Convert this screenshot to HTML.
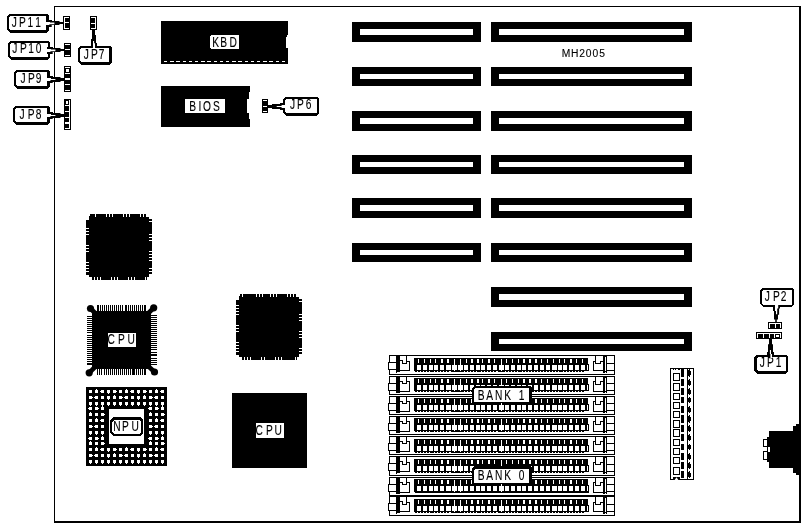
<!DOCTYPE html>
<html><head><meta charset="utf-8"><title>MH2005</title>
<style>
html,body{margin:0;padding:0;background:#fff;}
svg{display:block;will-change:transform;}
svg rect{shape-rendering:crispEdges;}
svg text{font-family:"Liberation Sans",sans-serif;fill:#000;stroke:#000;stroke-width:0.12px;}
</style></head><body>
<svg width="805" height="527" viewBox="0 0 805 527">
<rect x="0" y="0" width="805" height="527" fill="#fff"/>
<!-- board outline -->
<rect x="54" y="6" width="747" height="1" fill="#000"/>
<rect x="54" y="6" width="1" height="517" fill="#000"/>
<rect x="799" y="6" width="2" height="517" fill="#000"/>
<rect x="54" y="521" width="747" height="2" fill="#000"/>
<!-- expansion slots -->
<rect x="491" y="22" width="201" height="20" fill="#000"/>
<rect x="499" y="29" width="185" height="6" fill="#fff"/>
<rect x="352" y="22" width="129" height="20" fill="#000"/>
<rect x="360" y="29" width="113" height="6" fill="#fff"/>
<rect x="491" y="67" width="201" height="19" fill="#000"/>
<rect x="499" y="74" width="185" height="5" fill="#fff"/>
<rect x="352" y="67" width="129" height="19" fill="#000"/>
<rect x="360" y="74" width="113" height="5" fill="#fff"/>
<rect x="491" y="111" width="201" height="20" fill="#000"/>
<rect x="499" y="118" width="185" height="6" fill="#fff"/>
<rect x="352" y="111" width="129" height="20" fill="#000"/>
<rect x="360" y="118" width="113" height="6" fill="#fff"/>
<rect x="491" y="155" width="201" height="19" fill="#000"/>
<rect x="499" y="162" width="185" height="5" fill="#fff"/>
<rect x="352" y="155" width="129" height="19" fill="#000"/>
<rect x="360" y="162" width="113" height="5" fill="#fff"/>
<rect x="491" y="198" width="201" height="20" fill="#000"/>
<rect x="499" y="205" width="185" height="6" fill="#fff"/>
<rect x="352" y="198" width="129" height="20" fill="#000"/>
<rect x="360" y="205" width="113" height="6" fill="#fff"/>
<rect x="491" y="243" width="201" height="19" fill="#000"/>
<rect x="499" y="250" width="185" height="5" fill="#fff"/>
<rect x="352" y="243" width="129" height="19" fill="#000"/>
<rect x="360" y="250" width="113" height="5" fill="#fff"/>
<rect x="491" y="287" width="201" height="20" fill="#000"/>
<rect x="499" y="294" width="185" height="6" fill="#fff"/>
<rect x="491" y="332" width="201" height="19" fill="#000"/>
<rect x="499" y="339" width="185" height="5" fill="#fff"/>
<text transform="scale(0.88,1)" x="638.48 648.78 658.22 665.72 673.22 680.85" y="57" font-size="11.7">MH2005</text>
<!-- KBD chip -->
<rect x="161" y="21" width="127" height="43" fill="#000"/>
<rect x="286" y="37" width="2" height="11" fill="#fff"/>
<rect x="287" y="35" width="1" height="2" fill="#fff"/>
<rect x="164" y="61" width="3" height="1" fill="#fff"/>
<rect x="170" y="61" width="4" height="1" fill="#fff"/>
<rect x="176" y="61" width="4" height="1" fill="#fff"/>
<rect x="183" y="61" width="3" height="1" fill="#fff"/>
<rect x="189" y="61" width="3" height="1" fill="#fff"/>
<rect x="195" y="61" width="3" height="1" fill="#fff"/>
<rect x="201" y="61" width="4" height="1" fill="#fff"/>
<rect x="207" y="61" width="4" height="1" fill="#fff"/>
<rect x="214" y="61" width="3" height="1" fill="#fff"/>
<rect x="220" y="61" width="3" height="1" fill="#fff"/>
<rect x="226" y="61" width="3" height="1" fill="#fff"/>
<rect x="232" y="61" width="4" height="1" fill="#fff"/>
<rect x="238" y="61" width="4" height="1" fill="#fff"/>
<rect x="245" y="61" width="3" height="1" fill="#fff"/>
<rect x="251" y="61" width="3" height="1" fill="#fff"/>
<rect x="257" y="61" width="3" height="1" fill="#fff"/>
<rect x="263" y="61" width="4" height="1" fill="#fff"/>
<rect x="269" y="61" width="4" height="1" fill="#fff"/>
<rect x="276" y="61" width="3" height="1" fill="#fff"/>
<rect x="282" y="61" width="3" height="1" fill="#fff"/>
<path d="M211,35 H238 L239,36 V48 L238,49 H211 L210,48 V36 Z" fill="#fff" shape-rendering="crispEdges"/>
<text transform="scale(0.74,1)" x="286.94 297.76 310.12" y="47" font-size="13.8">KBD</text>
<!-- BIOS chip -->
<rect x="161" y="86" width="89" height="41" fill="#000"/>
<rect x="249" y="92" width="1" height="27" fill="#fff"/>
<rect x="247" y="99" width="3" height="14" fill="#fff"/>
<rect x="185" y="99" width="40" height="14" fill="#fff"/>
<text transform="scale(0.74,1)" x="255.80 268.35 274.37 287.77" y="111" font-size="13.8">BIOS</text>
<!-- JP11 -->
<path d="M9,14 H47 L49,16 V30 L46,33 H10 L7,30 V16 Z" fill="#000" shape-rendering="crispEdges"/>
<path d="M10,16 H45 L46,17 V29 L45,30 H10 L9,29 V17 Z" fill="#fff" shape-rendering="crispEdges"/>
<path d="M46,20 H52 V21 H59.5 V22 H63 V24 H59.5 V25 H51.7 V27 H46 Z" fill="#000" />
<path d="M45,22 H50 V22.6 H54.4 V24.2 H49.4 V25 H45 Z" fill="#fff" />
<text transform="scale(0.74,1)" x="15.81 25.60 37.19 47.66" y="26.8" font-size="13.8">JP11</text>
<rect x="63" y="16" width="7" height="14" fill="#000"/>
<rect x="64" y="17" width="5" height="1" fill="#fff"/>
<rect x="64" y="18" width="1" height="11" fill="#fff"/>
<rect x="65" y="22" width="4" height="1" fill="#fff"/>
<rect x="64" y="28" width="5" height="1" fill="#fff"/>
<!-- JP10 -->
<path d="M10,41 H48 L50,43 V57 L47,60 H11 L8,57 V43 Z" fill="#000" shape-rendering="crispEdges"/>
<path d="M11,43 H47 L48,44 V56 L47,57 H11 L10,56 V44 Z" fill="#fff" shape-rendering="crispEdges"/>
<path d="M47,47 H53 V48 H60.5 V49 H64 V51 H60.5 V52 H52.7 V54 H47 Z" fill="#000" />
<path d="M46,49 H51 V49.6 H55.4 V51.2 H50.4 V52 H46 Z" fill="#fff" />
<text transform="scale(0.74,1)" x="16.55 26.88 38.20 48.39" y="53" font-size="13.8">JP10</text>
<rect x="64" y="43" width="7" height="14" fill="#000"/>
<rect x="65" y="44" width="5" height="1" fill="#fff"/>
<rect x="65" y="49" width="5" height="1.2999999999999972" fill="#fff"/>
<rect x="65" y="55" width="5" height="1" fill="#fff"/>
<!-- JP9 -->
<path d="M16,70 H48 L50,72 V86 L47,89 H17 L14,86 V72 Z" fill="#000" shape-rendering="crispEdges"/>
<path d="M17,72 H46 L47,73 V85 L46,86 H17 L16,85 V73 Z" fill="#fff" shape-rendering="crispEdges"/>
<path d="M47,76 H53 V77 H60.5 V78 H64 V81 H60.5 V82 H52.7 V83 H47 Z" fill="#000" />
<path d="M46,78 H51 V79 H55.4 V80 H50.4 V81 H46 Z" fill="#fff" />
<text transform="scale(0.74,1)" x="27.83 37.90 48.19" y="82.8" font-size="13.8">JP9</text>
<rect x="64" y="66" width="7" height="26" fill="#000"/>
<rect x="65" y="67" width="5" height="1" fill="#fff"/>
<rect x="66" y="69" width="3" height="3" fill="#fff"/>
<rect x="65" y="73" width="5" height="1" fill="#fff"/>
<rect x="65" y="78" width="5" height="2" fill="#fff"/>
<rect x="65" y="84" width="5" height="1" fill="#fff"/>
<rect x="65" y="90" width="5" height="1" fill="#fff"/>
<!-- JP8 -->
<path d="M15,106 H48 L50,108 V122 L47,125 H16 L13,122 V108 Z" fill="#000" shape-rendering="crispEdges"/>
<path d="M16,108 H46 L47,109 V121 L46,122 H16 L15,121 V109 Z" fill="#fff" shape-rendering="crispEdges"/>
<path d="M47,112 H53 V113 H60.5 V114 H64 V117 H60.5 V118 H52.7 V119 H47 Z" fill="#000" />
<path d="M46,114 H51 V115 H55.4 V116 H50.4 V117 H46 Z" fill="#fff" />
<text transform="scale(0.74,1)" x="26.35 37.56 48.26" y="119" font-size="13.8">JP8</text>
<rect x="64" y="99" width="7" height="31" fill="#000"/>
<rect x="65" y="100" width="5" height="29" fill="#fff"/>
<rect x="65" y="100" width="4" height="5" fill="#000"/>
<rect x="66" y="101" width="2" height="3" fill="#fff"/>
<rect x="65" y="106" width="4.299999999999997" height="5" fill="#000"/>
<rect x="65" y="112.3" width="4.299999999999997" height="4.400000000000006" fill="#000"/>
<rect x="65" y="117.9" width="4.299999999999997" height="4.3999999999999915" fill="#000"/>
<rect x="65" y="123.7" width="4.299999999999997" height="4.299999999999997" fill="#000"/>
<!-- JP7 -->
<path d="M80,46 H110 L112,48 V62 L109,65 H81 L78,62 V48 Z" fill="#000" shape-rendering="crispEdges"/>
<path d="M81,48 H108 L109,49 V61 L108,62 H81 L80,61 V49 Z" fill="#fff" shape-rendering="crispEdges"/>
<text transform="scale(0.74,1)" x="113.10 122.83 133.32" y="59" font-size="13.8">JP7</text>
<rect x="90" y="16" width="7" height="14" fill="#000"/>
<rect x="91" y="17" width="5" height="1" fill="#fff"/>
<rect x="95" y="18" width="1" height="11" fill="#fff"/>
<rect x="91" y="23" width="4" height="1" fill="#fff"/>
<rect x="91" y="28" width="5" height="1" fill="#fff"/>
<path d="M92,30 H95 V35 H96 V43 H97 V48 H91 V39 H92 Z" fill="#000" />
<path d="M93,41 H94.1 V43.3 H95 V48.5 H93 Z" fill="#fff" />
<!-- JP6 -->
<path d="M285,97 H317 L319,99 V113 L316,116 H286 L283,113 V99 Z" fill="#000" shape-rendering="crispEdges"/>
<path d="M286,99 H316 L317,100 V112 L316,113 H286 L285,112 V100 Z" fill="#fff" shape-rendering="crispEdges"/>
<text transform="scale(0.74,1)" x="391.89 401.34 413.14" y="108.8" font-size="13.8">JP6</text>
<rect x="262" y="99" width="6" height="14" fill="#000"/>
<rect x="263" y="100" width="4" height="1" fill="#fff"/>
<rect x="263" y="106" width="4" height="1" fill="#fff"/>
<rect x="263" y="111" width="4" height="1" fill="#fff"/>
<path d="M268,105 H272 V104 H280 V103 H285 V110 H280 V109 H272 V108 H268 Z" fill="#000" />
<path d="M276.7,106 H281.6 V105 H286 V108 H281.6 V107 H276.7 Z" fill="#fff" />
<!-- JP2 -->
<path d="M762,288 H792 L794,290 V304 L791,307 H763 L760,304 V290 Z" fill="#000" shape-rendering="crispEdges"/>
<path d="M763,290 H791 L792,291 V304 L791,305 H763 L762,304 V291 Z" fill="#fff" shape-rendering="crispEdges"/>
<text transform="scale(0.74,1)" x="1033.37 1044.45 1054.95" y="301" font-size="13.8">JP2</text>
<rect x="768" y="322" width="14" height="7" fill="#000"/>
<rect x="769" y="323" width="12" height="1" fill="#fff"/>
<rect x="769" y="324" width="1" height="4" fill="#fff"/>
<rect x="775" y="324" width="1" height="4" fill="#fff"/>
<rect x="780" y="324" width="1" height="4" fill="#fff"/>
<path d="M773,305 H780 V308.6 H779.1 V314.8 H778 V319.6 H776.8 V322 H775.2 V319.6 H774 V311 H773 Z" fill="#000" />
<path d="M775,303 H778.2 V308.6 H777.2 V314.3 H776 V311 H775 Z" fill="#fff" />
<!-- JP1 -->
<path d="M756,355 H786 L788,357 V371 L785,374 H757 L754,371 V357 Z" fill="#000" shape-rendering="crispEdges"/>
<path d="M758,357 H785 L786,358 V370 L785,371 H758 L757,370 V358 Z" fill="#fff" shape-rendering="crispEdges"/>
<text transform="scale(0.74,1)" x="1026.62 1036.34 1048.27" y="367" font-size="13.8">JP1</text>
<rect x="756" y="332" width="26" height="7" fill="#000"/>
<rect x="757" y="333" width="24" height="1" fill="#fff"/>
<rect x="757" y="334" width="1" height="4" fill="#fff"/>
<rect x="763" y="334" width="1" height="4" fill="#fff"/>
<rect x="769" y="334" width="1" height="4" fill="#fff"/>
<rect x="774" y="334" width="1" height="4" fill="#fff"/>
<rect x="780" y="334" width="1" height="4" fill="#fff"/>
<rect x="776" y="335" width="3" height="2" fill="#fff"/>
<path d="M769,339 H772 V344.2 H773 V352 H774 V357 H767 V352 H768 V344.2 H769 Z" fill="#000" />
<path d="M769.9,349.9 H771 V354 H772 V358 H770.4 V354 H769.9 Z" fill="#fff" />
<!-- chip U1 -->
<rect x="89" y="217" width="60" height="60" fill="#000"/>
<rect x="90" y="214" width="56" height="3" fill="#000"/>
<rect x="92" y="277" width="55" height="3" fill="#000"/>
<rect x="86" y="220" width="3" height="55" fill="#000"/>
<rect x="149" y="218" width="3" height="56" fill="#000"/>
<rect x="89" y="216" width="1" height="1" fill="#000"/>
<rect x="95" y="214" width="1" height="3" fill="#fff"/>
<rect x="106" y="214" width="1" height="3" fill="#fff"/>
<rect x="109" y="214" width="1" height="3" fill="#fff"/>
<rect x="112" y="214" width="1" height="3" fill="#fff"/>
<rect x="123" y="214" width="1" height="3" fill="#fff"/>
<rect x="126" y="214" width="1" height="3" fill="#fff"/>
<rect x="129" y="214" width="1" height="3" fill="#fff"/>
<rect x="140" y="214" width="1" height="3" fill="#fff"/>
<rect x="143" y="214" width="1" height="3" fill="#fff"/>
<rect x="94" y="277" width="1" height="3" fill="#fff"/>
<rect x="97" y="277" width="1" height="3" fill="#fff"/>
<rect x="100" y="277" width="1" height="3" fill="#fff"/>
<rect x="111" y="277" width="1" height="3" fill="#fff"/>
<rect x="114" y="277" width="1" height="3" fill="#fff"/>
<rect x="117" y="277" width="1" height="3" fill="#fff"/>
<rect x="128" y="277" width="1" height="3" fill="#fff"/>
<rect x="131" y="277" width="1" height="3" fill="#fff"/>
<rect x="134" y="277" width="1" height="3" fill="#fff"/>
<rect x="145" y="277" width="1" height="3" fill="#fff"/>
<rect x="86" y="228" width="3" height="1" fill="#fff"/>
<rect x="86" y="231" width="3" height="1" fill="#fff"/>
<rect x="86" y="234" width="3" height="1" fill="#fff"/>
<rect x="86" y="245" width="3" height="1" fill="#fff"/>
<rect x="86" y="248" width="3" height="1" fill="#fff"/>
<rect x="86" y="251" width="3" height="1" fill="#fff"/>
<rect x="86" y="262" width="3" height="1" fill="#fff"/>
<rect x="86" y="265" width="3" height="1" fill="#fff"/>
<rect x="86" y="268" width="3" height="1" fill="#fff"/>
<rect x="86" y="271" width="3" height="1" fill="#fff"/>
<rect x="149" y="218" width="3" height="1" fill="#fff"/>
<rect x="149" y="221" width="3" height="1" fill="#fff"/>
<rect x="149" y="234" width="3" height="1" fill="#fff"/>
<rect x="149" y="237" width="3" height="1" fill="#fff"/>
<rect x="149" y="240" width="3" height="1" fill="#fff"/>
<rect x="149" y="251" width="3" height="1" fill="#fff"/>
<rect x="149" y="254" width="3" height="1" fill="#fff"/>
<rect x="149" y="257" width="3" height="1" fill="#fff"/>
<rect x="149" y="260" width="3" height="1" fill="#fff"/>
<rect x="149" y="268" width="3" height="1" fill="#fff"/>
<rect x="149" y="271" width="3" height="1" fill="#fff"/>
<rect x="149" y="274" width="3" height="1" fill="#fff"/>
<!-- chip U2 -->
<rect x="239" y="297" width="60" height="60" fill="#000"/>
<rect x="240" y="294" width="56" height="3" fill="#000"/>
<rect x="242" y="357" width="55" height="3" fill="#000"/>
<rect x="236" y="300" width="3" height="55" fill="#000"/>
<rect x="299" y="298" width="3" height="56" fill="#000"/>
<rect x="239" y="296" width="1" height="1" fill="#000"/>
<rect x="242" y="294" width="1" height="3" fill="#fff"/>
<rect x="256" y="294" width="1" height="3" fill="#fff"/>
<rect x="259" y="294" width="1" height="3" fill="#fff"/>
<rect x="262" y="294" width="1" height="3" fill="#fff"/>
<rect x="270" y="294" width="1" height="3" fill="#fff"/>
<rect x="273" y="294" width="1" height="3" fill="#fff"/>
<rect x="276" y="294" width="1" height="3" fill="#fff"/>
<rect x="287" y="294" width="1" height="3" fill="#fff"/>
<rect x="290" y="294" width="1" height="3" fill="#fff"/>
<rect x="293" y="294" width="1" height="3" fill="#fff"/>
<rect x="244" y="357" width="1" height="3" fill="#fff"/>
<rect x="247" y="357" width="1" height="3" fill="#fff"/>
<rect x="250" y="357" width="1" height="3" fill="#fff"/>
<rect x="261" y="357" width="1" height="3" fill="#fff"/>
<rect x="264" y="357" width="1" height="3" fill="#fff"/>
<rect x="275" y="357" width="1" height="3" fill="#fff"/>
<rect x="278" y="357" width="1" height="3" fill="#fff"/>
<rect x="281" y="357" width="1" height="3" fill="#fff"/>
<rect x="295" y="357" width="1" height="3" fill="#fff"/>
<rect x="236" y="305" width="3" height="1" fill="#fff"/>
<rect x="236" y="308" width="3" height="1" fill="#fff"/>
<rect x="236" y="311" width="3" height="1" fill="#fff"/>
<rect x="236" y="314" width="3" height="1" fill="#fff"/>
<rect x="236" y="325" width="3" height="1" fill="#fff"/>
<rect x="236" y="328" width="3" height="1" fill="#fff"/>
<rect x="236" y="331" width="3" height="1" fill="#fff"/>
<rect x="236" y="342" width="3" height="1" fill="#fff"/>
<rect x="236" y="345" width="3" height="1" fill="#fff"/>
<rect x="236" y="348" width="3" height="1" fill="#fff"/>
<rect x="236" y="351" width="3" height="1" fill="#fff"/>
<rect x="299" y="298" width="3" height="1" fill="#fff"/>
<rect x="299" y="301" width="3" height="1" fill="#fff"/>
<rect x="299" y="314" width="3" height="1" fill="#fff"/>
<rect x="299" y="317" width="3" height="1" fill="#fff"/>
<rect x="299" y="320" width="3" height="1" fill="#fff"/>
<rect x="299" y="331" width="3" height="1" fill="#fff"/>
<rect x="299" y="334" width="3" height="1" fill="#fff"/>
<rect x="299" y="337" width="3" height="1" fill="#fff"/>
<rect x="299" y="348" width="3" height="1" fill="#fff"/>
<rect x="299" y="351" width="3" height="1" fill="#fff"/>
<rect x="299" y="354" width="3" height="1" fill="#fff"/>
<!-- QFP CPU -->
<rect x="92" y="311" width="59" height="58" fill="#000"/>
<rect x="97" y="305" width="2" height="6" fill="#000"/>
<rect x="100" y="305" width="1" height="6" fill="#000"/>
<rect x="102" y="305" width="1" height="6" fill="#000"/>
<rect x="104" y="305" width="1" height="6" fill="#000"/>
<rect x="106" y="305" width="1" height="6" fill="#000"/>
<rect x="108" y="305" width="1" height="6" fill="#000"/>
<rect x="110" y="305" width="1" height="6" fill="#000"/>
<rect x="112" y="305" width="1" height="6" fill="#000"/>
<rect x="114" y="305" width="1" height="6" fill="#000"/>
<rect x="116" y="305" width="1" height="6" fill="#000"/>
<rect x="118" y="305" width="1" height="6" fill="#000"/>
<rect x="120" y="305" width="1" height="6" fill="#000"/>
<rect x="122" y="305" width="1" height="6" fill="#000"/>
<rect x="125" y="305" width="2" height="6" fill="#000"/>
<rect x="128" y="305" width="1" height="6" fill="#000"/>
<rect x="130" y="305" width="1" height="6" fill="#000"/>
<rect x="132" y="305" width="1" height="6" fill="#000"/>
<rect x="134" y="305" width="1" height="6" fill="#000"/>
<rect x="136" y="305" width="1" height="6" fill="#000"/>
<rect x="138" y="305" width="1" height="6" fill="#000"/>
<rect x="140" y="305" width="1" height="6" fill="#000"/>
<rect x="142" y="305" width="1" height="6" fill="#000"/>
<rect x="144" y="305" width="2" height="6" fill="#000"/>
<rect x="97" y="369" width="1" height="6" fill="#000"/>
<rect x="99" y="369" width="1" height="6" fill="#000"/>
<rect x="101" y="369" width="1" height="6" fill="#000"/>
<rect x="104" y="369" width="1" height="6" fill="#000"/>
<rect x="106" y="369" width="1" height="6" fill="#000"/>
<rect x="108" y="369" width="1" height="6" fill="#000"/>
<rect x="110" y="369" width="1" height="6" fill="#000"/>
<rect x="112" y="369" width="1" height="6" fill="#000"/>
<rect x="114" y="369" width="1" height="6" fill="#000"/>
<rect x="116" y="369" width="1" height="6" fill="#000"/>
<rect x="118" y="369" width="1" height="6" fill="#000"/>
<rect x="120" y="369" width="1" height="6" fill="#000"/>
<rect x="122" y="369" width="1" height="6" fill="#000"/>
<rect x="124" y="369" width="1" height="6" fill="#000"/>
<rect x="126" y="369" width="1" height="6" fill="#000"/>
<rect x="128" y="369" width="1" height="6" fill="#000"/>
<rect x="130" y="369" width="1" height="6" fill="#000"/>
<rect x="132" y="369" width="3" height="6" fill="#000"/>
<rect x="136" y="369" width="1" height="6" fill="#000"/>
<rect x="138" y="369" width="1" height="6" fill="#000"/>
<rect x="140" y="369" width="1" height="6" fill="#000"/>
<rect x="142" y="369" width="1" height="6" fill="#000"/>
<rect x="144" y="369" width="2" height="6" fill="#000"/>
<rect x="87" y="316" width="5" height="1" fill="#000"/>
<rect x="87" y="318" width="5" height="1" fill="#000"/>
<rect x="87" y="320" width="5" height="1" fill="#000"/>
<rect x="87" y="322" width="5" height="1" fill="#000"/>
<rect x="87" y="324" width="5" height="1" fill="#000"/>
<rect x="87" y="326" width="5" height="1" fill="#000"/>
<rect x="87" y="328" width="5" height="1" fill="#000"/>
<rect x="87" y="330" width="5" height="1" fill="#000"/>
<rect x="87" y="332" width="5" height="1" fill="#000"/>
<rect x="87" y="335" width="5" height="1" fill="#000"/>
<rect x="87" y="337" width="5" height="1" fill="#000"/>
<rect x="87" y="339" width="5" height="1" fill="#000"/>
<rect x="87" y="341" width="5" height="1" fill="#000"/>
<rect x="87" y="343" width="5" height="1" fill="#000"/>
<rect x="87" y="345" width="5" height="1" fill="#000"/>
<rect x="87" y="347" width="5" height="1" fill="#000"/>
<rect x="87" y="349" width="5" height="1" fill="#000"/>
<rect x="87" y="351" width="5" height="1" fill="#000"/>
<rect x="87" y="353" width="5" height="1" fill="#000"/>
<rect x="87" y="355" width="5" height="1" fill="#000"/>
<rect x="87" y="357" width="5" height="1" fill="#000"/>
<rect x="87" y="359" width="5" height="1" fill="#000"/>
<rect x="87" y="361" width="5" height="1" fill="#000"/>
<rect x="87" y="363" width="5" height="2" fill="#000"/>
<rect x="151" y="315" width="6" height="1" fill="#000"/>
<rect x="151" y="317" width="6" height="1" fill="#000"/>
<rect x="151" y="319" width="6" height="1" fill="#000"/>
<rect x="151" y="321" width="6" height="1" fill="#000"/>
<rect x="151" y="323" width="6" height="1" fill="#000"/>
<rect x="151" y="325" width="6" height="1" fill="#000"/>
<rect x="151" y="327" width="6" height="1" fill="#000"/>
<rect x="151" y="329" width="6" height="1" fill="#000"/>
<rect x="151" y="331" width="6" height="1" fill="#000"/>
<rect x="151" y="333" width="6" height="1" fill="#000"/>
<rect x="151" y="335" width="6" height="1" fill="#000"/>
<rect x="151" y="337" width="6" height="1" fill="#000"/>
<rect x="151" y="339" width="6" height="1" fill="#000"/>
<rect x="151" y="341" width="6" height="1" fill="#000"/>
<rect x="151" y="343" width="6" height="1" fill="#000"/>
<rect x="151" y="345" width="6" height="1" fill="#000"/>
<rect x="151" y="347" width="6" height="1" fill="#000"/>
<rect x="151" y="349" width="6" height="1" fill="#000"/>
<rect x="151" y="352" width="6" height="1" fill="#000"/>
<rect x="151" y="354" width="6" height="2" fill="#000"/>
<rect x="151" y="358" width="6" height="1" fill="#000"/>
<rect x="151" y="360" width="6" height="1" fill="#000"/>
<rect x="151" y="362" width="6" height="1" fill="#000"/>
<rect x="151" y="364" width="6" height="1" fill="#000"/>
<line x1="96" y1="314" x2="90.5" y2="308.5" stroke="#000" stroke-width="4.6"/>
<circle cx="90.5" cy="308.5" r="3.6" fill="#000"/>
<line x1="147" y1="314.5" x2="153.7" y2="307.8" stroke="#000" stroke-width="4.6"/>
<circle cx="153.7" cy="307.8" r="3.6" fill="#000"/>
<line x1="96" y1="366" x2="89.2" y2="372.8" stroke="#000" stroke-width="4.6"/>
<circle cx="89.2" cy="372.8" r="3.6" fill="#000"/>
<line x1="147" y1="365" x2="154.5" y2="372" stroke="#000" stroke-width="4.6"/>
<circle cx="154.5" cy="372" r="3.6" fill="#000"/>
<rect x="108" y="333" width="28" height="14" fill="#fff"/>
<text transform="scale(0.74,1)" x="145.27 159.38 172.31" y="344" font-size="13.8">CPU</text>
<!-- PGA NPU -->
<rect x="86" y="387" width="81" height="79" fill="#000"/>
<rect x="109" y="409" width="35" height="35" fill="#fff"/>
<rect x="89" y="390" width="3" height="3" fill="#fff"/>
<rect x="95" y="390" width="3" height="3" fill="#fff"/>
<rect x="96" y="389" width="1" height="1" fill="#fff"/>
<rect x="101" y="390" width="3" height="3" fill="#fff"/>
<rect x="100" y="391" width="1" height="1" fill="#fff"/>
<rect x="107" y="390" width="3" height="3" fill="#fff"/>
<rect x="108" y="393" width="1" height="1" fill="#fff"/>
<rect x="113" y="390" width="3" height="3" fill="#fff"/>
<rect x="116" y="391" width="1" height="1" fill="#fff"/>
<rect x="119" y="390" width="3" height="3" fill="#fff"/>
<rect x="125" y="390" width="3" height="3" fill="#fff"/>
<rect x="126" y="389" width="1" height="1" fill="#fff"/>
<rect x="131" y="390" width="3" height="3" fill="#fff"/>
<rect x="130" y="391" width="1" height="1" fill="#fff"/>
<rect x="137" y="390" width="3" height="3" fill="#fff"/>
<rect x="138" y="393" width="1" height="1" fill="#fff"/>
<rect x="143" y="390" width="3" height="3" fill="#fff"/>
<rect x="146" y="391" width="1" height="1" fill="#fff"/>
<rect x="149" y="390" width="3" height="3" fill="#fff"/>
<rect x="155" y="390" width="3" height="3" fill="#fff"/>
<rect x="156" y="389" width="1" height="1" fill="#fff"/>
<rect x="161" y="390" width="3" height="3" fill="#fff"/>
<rect x="160" y="391" width="1" height="1" fill="#fff"/>
<rect x="89" y="396" width="3" height="3" fill="#fff"/>
<rect x="92" y="397" width="1" height="1" fill="#fff"/>
<rect x="95" y="396" width="3" height="3" fill="#fff"/>
<rect x="94" y="397" width="1" height="1" fill="#fff"/>
<rect x="101" y="396" width="3" height="3" fill="#fff"/>
<rect x="107" y="396" width="3" height="3" fill="#fff"/>
<rect x="108" y="399" width="1" height="1" fill="#fff"/>
<rect x="113" y="396" width="3" height="3" fill="#fff"/>
<rect x="114" y="395" width="1" height="1" fill="#fff"/>
<rect x="119" y="396" width="3" height="3" fill="#fff"/>
<rect x="122" y="397" width="1" height="1" fill="#fff"/>
<rect x="125" y="396" width="3" height="3" fill="#fff"/>
<rect x="124" y="397" width="1" height="1" fill="#fff"/>
<rect x="131" y="396" width="3" height="3" fill="#fff"/>
<rect x="137" y="396" width="3" height="3" fill="#fff"/>
<rect x="138" y="399" width="1" height="1" fill="#fff"/>
<rect x="143" y="396" width="3" height="3" fill="#fff"/>
<rect x="144" y="395" width="1" height="1" fill="#fff"/>
<rect x="149" y="396" width="3" height="3" fill="#fff"/>
<rect x="152" y="397" width="1" height="1" fill="#fff"/>
<rect x="155" y="396" width="3" height="3" fill="#fff"/>
<rect x="154" y="397" width="1" height="1" fill="#fff"/>
<rect x="161" y="396" width="3" height="3" fill="#fff"/>
<rect x="89" y="402" width="3" height="3" fill="#fff"/>
<rect x="90" y="405" width="1" height="1" fill="#fff"/>
<rect x="95" y="402" width="3" height="3" fill="#fff"/>
<rect x="96" y="405" width="1" height="1" fill="#fff"/>
<rect x="101" y="402" width="3" height="3" fill="#fff"/>
<rect x="102" y="405" width="1" height="1" fill="#fff"/>
<rect x="107" y="402" width="3" height="3" fill="#fff"/>
<rect x="108" y="405" width="1" height="1" fill="#fff"/>
<rect x="113" y="402" width="3" height="3" fill="#fff"/>
<rect x="114" y="405" width="1" height="1" fill="#fff"/>
<rect x="119" y="402" width="3" height="3" fill="#fff"/>
<rect x="120" y="405" width="1" height="1" fill="#fff"/>
<rect x="125" y="402" width="3" height="3" fill="#fff"/>
<rect x="126" y="405" width="1" height="1" fill="#fff"/>
<rect x="131" y="402" width="3" height="3" fill="#fff"/>
<rect x="132" y="405" width="1" height="1" fill="#fff"/>
<rect x="137" y="402" width="3" height="3" fill="#fff"/>
<rect x="138" y="405" width="1" height="1" fill="#fff"/>
<rect x="143" y="402" width="3" height="3" fill="#fff"/>
<rect x="144" y="405" width="1" height="1" fill="#fff"/>
<rect x="149" y="402" width="3" height="3" fill="#fff"/>
<rect x="150" y="405" width="1" height="1" fill="#fff"/>
<rect x="155" y="402" width="3" height="3" fill="#fff"/>
<rect x="156" y="405" width="1" height="1" fill="#fff"/>
<rect x="161" y="402" width="3" height="3" fill="#fff"/>
<rect x="162" y="405" width="1" height="1" fill="#fff"/>
<rect x="89" y="407" width="3" height="3" fill="#fff"/>
<rect x="88" y="408" width="1" height="1" fill="#fff"/>
<rect x="95" y="407" width="3" height="3" fill="#fff"/>
<rect x="98" y="408" width="1" height="1" fill="#fff"/>
<rect x="101" y="407" width="3" height="3" fill="#fff"/>
<rect x="102" y="406" width="1" height="1" fill="#fff"/>
<rect x="149" y="407" width="3" height="3" fill="#fff"/>
<rect x="148" y="408" width="1" height="1" fill="#fff"/>
<rect x="155" y="407" width="3" height="3" fill="#fff"/>
<rect x="158" y="408" width="1" height="1" fill="#fff"/>
<rect x="161" y="407" width="3" height="3" fill="#fff"/>
<rect x="162" y="406" width="1" height="1" fill="#fff"/>
<rect x="89" y="413" width="3" height="3" fill="#fff"/>
<rect x="90" y="412" width="1" height="1" fill="#fff"/>
<rect x="95" y="413" width="3" height="3" fill="#fff"/>
<rect x="101" y="413" width="3" height="3" fill="#fff"/>
<rect x="104" y="414" width="1" height="1" fill="#fff"/>
<rect x="149" y="413" width="3" height="3" fill="#fff"/>
<rect x="150" y="412" width="1" height="1" fill="#fff"/>
<rect x="155" y="413" width="3" height="3" fill="#fff"/>
<rect x="161" y="413" width="3" height="3" fill="#fff"/>
<rect x="164" y="414" width="1" height="1" fill="#fff"/>
<rect x="89" y="419" width="3" height="3" fill="#fff"/>
<rect x="95" y="419" width="3" height="3" fill="#fff"/>
<rect x="96" y="418" width="1" height="1" fill="#fff"/>
<rect x="101" y="419" width="3" height="3" fill="#fff"/>
<rect x="100" y="420" width="1" height="1" fill="#fff"/>
<rect x="149" y="419" width="3" height="3" fill="#fff"/>
<rect x="155" y="419" width="3" height="3" fill="#fff"/>
<rect x="156" y="418" width="1" height="1" fill="#fff"/>
<rect x="161" y="419" width="3" height="3" fill="#fff"/>
<rect x="160" y="420" width="1" height="1" fill="#fff"/>
<rect x="89" y="425" width="3" height="3" fill="#fff"/>
<rect x="92" y="426" width="1" height="1" fill="#fff"/>
<rect x="95" y="425" width="3" height="3" fill="#fff"/>
<rect x="94" y="426" width="1" height="1" fill="#fff"/>
<rect x="101" y="425" width="3" height="3" fill="#fff"/>
<rect x="149" y="425" width="3" height="3" fill="#fff"/>
<rect x="152" y="426" width="1" height="1" fill="#fff"/>
<rect x="155" y="425" width="3" height="3" fill="#fff"/>
<rect x="154" y="426" width="1" height="1" fill="#fff"/>
<rect x="161" y="425" width="3" height="3" fill="#fff"/>
<rect x="89" y="431" width="3" height="3" fill="#fff"/>
<rect x="90" y="434" width="1" height="1" fill="#fff"/>
<rect x="95" y="431" width="3" height="3" fill="#fff"/>
<rect x="96" y="434" width="1" height="1" fill="#fff"/>
<rect x="101" y="431" width="3" height="3" fill="#fff"/>
<rect x="102" y="434" width="1" height="1" fill="#fff"/>
<rect x="149" y="431" width="3" height="3" fill="#fff"/>
<rect x="150" y="434" width="1" height="1" fill="#fff"/>
<rect x="155" y="431" width="3" height="3" fill="#fff"/>
<rect x="156" y="434" width="1" height="1" fill="#fff"/>
<rect x="161" y="431" width="3" height="3" fill="#fff"/>
<rect x="162" y="434" width="1" height="1" fill="#fff"/>
<rect x="89" y="437" width="3" height="3" fill="#fff"/>
<rect x="88" y="438" width="1" height="1" fill="#fff"/>
<rect x="95" y="437" width="3" height="3" fill="#fff"/>
<rect x="98" y="438" width="1" height="1" fill="#fff"/>
<rect x="101" y="437" width="3" height="3" fill="#fff"/>
<rect x="102" y="436" width="1" height="1" fill="#fff"/>
<rect x="149" y="437" width="3" height="3" fill="#fff"/>
<rect x="148" y="438" width="1" height="1" fill="#fff"/>
<rect x="155" y="437" width="3" height="3" fill="#fff"/>
<rect x="158" y="438" width="1" height="1" fill="#fff"/>
<rect x="161" y="437" width="3" height="3" fill="#fff"/>
<rect x="162" y="436" width="1" height="1" fill="#fff"/>
<rect x="89" y="442" width="3" height="3" fill="#fff"/>
<rect x="90" y="441" width="1" height="1" fill="#fff"/>
<rect x="95" y="442" width="3" height="3" fill="#fff"/>
<rect x="101" y="442" width="3" height="3" fill="#fff"/>
<rect x="104" y="443" width="1" height="1" fill="#fff"/>
<rect x="149" y="442" width="3" height="3" fill="#fff"/>
<rect x="150" y="441" width="1" height="1" fill="#fff"/>
<rect x="155" y="442" width="3" height="3" fill="#fff"/>
<rect x="161" y="442" width="3" height="3" fill="#fff"/>
<rect x="164" y="443" width="1" height="1" fill="#fff"/>
<rect x="89" y="448" width="3" height="3" fill="#fff"/>
<rect x="95" y="448" width="3" height="3" fill="#fff"/>
<rect x="96" y="447" width="1" height="1" fill="#fff"/>
<rect x="101" y="448" width="3" height="3" fill="#fff"/>
<rect x="100" y="449" width="1" height="1" fill="#fff"/>
<rect x="107" y="448" width="3" height="3" fill="#fff"/>
<rect x="108" y="451" width="1" height="1" fill="#fff"/>
<rect x="113" y="448" width="3" height="3" fill="#fff"/>
<rect x="116" y="449" width="1" height="1" fill="#fff"/>
<rect x="119" y="448" width="3" height="3" fill="#fff"/>
<rect x="125" y="448" width="3" height="3" fill="#fff"/>
<rect x="126" y="447" width="1" height="1" fill="#fff"/>
<rect x="131" y="448" width="3" height="3" fill="#fff"/>
<rect x="130" y="449" width="1" height="1" fill="#fff"/>
<rect x="137" y="448" width="3" height="3" fill="#fff"/>
<rect x="138" y="451" width="1" height="1" fill="#fff"/>
<rect x="143" y="448" width="3" height="3" fill="#fff"/>
<rect x="146" y="449" width="1" height="1" fill="#fff"/>
<rect x="149" y="448" width="3" height="3" fill="#fff"/>
<rect x="155" y="448" width="3" height="3" fill="#fff"/>
<rect x="156" y="447" width="1" height="1" fill="#fff"/>
<rect x="161" y="448" width="3" height="3" fill="#fff"/>
<rect x="160" y="449" width="1" height="1" fill="#fff"/>
<rect x="89" y="454" width="3" height="3" fill="#fff"/>
<rect x="92" y="455" width="1" height="1" fill="#fff"/>
<rect x="95" y="454" width="3" height="3" fill="#fff"/>
<rect x="94" y="455" width="1" height="1" fill="#fff"/>
<rect x="101" y="454" width="3" height="3" fill="#fff"/>
<rect x="107" y="454" width="3" height="3" fill="#fff"/>
<rect x="108" y="457" width="1" height="1" fill="#fff"/>
<rect x="113" y="454" width="3" height="3" fill="#fff"/>
<rect x="114" y="453" width="1" height="1" fill="#fff"/>
<rect x="119" y="454" width="3" height="3" fill="#fff"/>
<rect x="122" y="455" width="1" height="1" fill="#fff"/>
<rect x="125" y="454" width="3" height="3" fill="#fff"/>
<rect x="124" y="455" width="1" height="1" fill="#fff"/>
<rect x="131" y="454" width="3" height="3" fill="#fff"/>
<rect x="137" y="454" width="3" height="3" fill="#fff"/>
<rect x="138" y="457" width="1" height="1" fill="#fff"/>
<rect x="143" y="454" width="3" height="3" fill="#fff"/>
<rect x="144" y="453" width="1" height="1" fill="#fff"/>
<rect x="149" y="454" width="3" height="3" fill="#fff"/>
<rect x="152" y="455" width="1" height="1" fill="#fff"/>
<rect x="155" y="454" width="3" height="3" fill="#fff"/>
<rect x="154" y="455" width="1" height="1" fill="#fff"/>
<rect x="161" y="454" width="3" height="3" fill="#fff"/>
<rect x="89" y="460" width="3" height="3" fill="#fff"/>
<rect x="90" y="463" width="1" height="1" fill="#fff"/>
<rect x="95" y="460" width="3" height="3" fill="#fff"/>
<rect x="96" y="463" width="1" height="1" fill="#fff"/>
<rect x="101" y="460" width="3" height="3" fill="#fff"/>
<rect x="102" y="463" width="1" height="1" fill="#fff"/>
<rect x="107" y="460" width="3" height="3" fill="#fff"/>
<rect x="108" y="463" width="1" height="1" fill="#fff"/>
<rect x="113" y="460" width="3" height="3" fill="#fff"/>
<rect x="114" y="463" width="1" height="1" fill="#fff"/>
<rect x="119" y="460" width="3" height="3" fill="#fff"/>
<rect x="120" y="463" width="1" height="1" fill="#fff"/>
<rect x="125" y="460" width="3" height="3" fill="#fff"/>
<rect x="126" y="463" width="1" height="1" fill="#fff"/>
<rect x="131" y="460" width="3" height="3" fill="#fff"/>
<rect x="132" y="463" width="1" height="1" fill="#fff"/>
<rect x="137" y="460" width="3" height="3" fill="#fff"/>
<rect x="138" y="463" width="1" height="1" fill="#fff"/>
<rect x="143" y="460" width="3" height="3" fill="#fff"/>
<rect x="144" y="463" width="1" height="1" fill="#fff"/>
<rect x="149" y="460" width="3" height="3" fill="#fff"/>
<rect x="150" y="463" width="1" height="1" fill="#fff"/>
<rect x="155" y="460" width="3" height="3" fill="#fff"/>
<rect x="156" y="463" width="1" height="1" fill="#fff"/>
<rect x="161" y="460" width="3" height="3" fill="#fff"/>
<rect x="162" y="463" width="1" height="1" fill="#fff"/>
<path d="M113,417 H140 L143,420 V433 L140,436 H113 L110,433 V420 Z" fill="#000" shape-rendering="crispEdges"/>
<path d="M114,420 H139 L141,422 V432 L139,434 H114 L112,432 V422 Z" fill="#fff" shape-rendering="crispEdges"/>
<text transform="scale(0.74,1)" x="153.19 164.79 177.58" y="431" font-size="13.8">NPU</text>
<!-- CPU square -->
<rect x="232" y="393" width="75" height="75" fill="#000"/>
<path d="M256,423 H283 L284,424 V437 L283,438 H256 Z" fill="#fff" shape-rendering="crispEdges"/>
<text transform="scale(0.74,1)" x="345.27 359.38 370.90" y="435" font-size="13.8">CPU</text>
<!-- SIMM sockets -->
<rect x="389" y="355" width="226" height="1" fill="#000"/>
<rect x="389" y="374" width="226" height="1" fill="#000"/>
<rect x="614" y="355" width="1" height="20" fill="#000"/>
<rect x="389" y="355" width="1" height="8" fill="#000"/>
<rect x="389" y="369" width="1" height="6" fill="#000"/>
<rect x="396" y="355" width="4" height="17" fill="#000"/>
<rect x="396" y="372" width="1" height="1" fill="#000"/>
<rect x="388" y="362" width="9" height="1" fill="#000"/>
<rect x="388" y="369" width="9" height="1" fill="#000"/>
<rect x="388" y="362" width="1" height="8" fill="#000"/>
<rect x="400" y="360" width="3" height="1" fill="#000"/>
<rect x="402" y="360" width="1" height="4" fill="#000"/>
<rect x="402" y="363" width="5" height="1" fill="#000"/>
<rect x="406" y="355" width="1" height="9" fill="#000"/>
<rect x="407" y="361" width="3" height="1" fill="#000"/>
<rect x="409" y="361" width="1" height="10" fill="#000"/>
<rect x="400" y="370" width="10" height="1" fill="#000"/>
<rect x="603" y="355" width="4" height="17" fill="#000"/>
<rect x="603" y="372" width="2" height="1" fill="#000"/>
<rect x="606" y="372" width="1" height="1" fill="#000"/>
<rect x="605" y="357" width="1" height="14" fill="#fff"/>
<rect x="607" y="363" width="8" height="1" fill="#000"/>
<rect x="607" y="370" width="8" height="1" fill="#000"/>
<rect x="595" y="355" width="1" height="9" fill="#000"/>
<rect x="595" y="363" width="6" height="1" fill="#000"/>
<rect x="600" y="361" width="1" height="3" fill="#000"/>
<rect x="600" y="361" width="3" height="1" fill="#000"/>
<rect x="593" y="361" width="3" height="1" fill="#000"/>
<rect x="593" y="361" width="1" height="10" fill="#000"/>
<rect x="593" y="370" width="10" height="1" fill="#000"/>
<rect x="414" y="358" width="174" height="13" fill="#000"/>
<rect x="415" y="364" width="174" height="7" fill="#000"/>
<rect x="417" y="365" width="4" height="5" fill="#fff"/>
<rect x="415" y="371" width="2" height="1" fill="#000"/>
<rect x="418" y="371" width="2" height="1" fill="#000"/>
<rect x="418" y="359" width="1" height="4" fill="#fff"/>
<rect x="423" y="365" width="4" height="5" fill="#fff"/>
<rect x="421" y="371" width="2" height="1" fill="#000"/>
<rect x="424" y="371" width="2" height="1" fill="#000"/>
<rect x="424" y="359" width="1" height="4" fill="#fff"/>
<rect x="429" y="365" width="4" height="5" fill="#fff"/>
<rect x="427" y="371" width="2" height="1" fill="#000"/>
<rect x="430" y="371" width="2" height="1" fill="#000"/>
<rect x="430" y="359" width="1" height="4" fill="#fff"/>
<rect x="434" y="365" width="4" height="5" fill="#fff"/>
<rect x="432" y="371" width="2" height="1" fill="#000"/>
<rect x="435" y="371" width="2" height="1" fill="#000"/>
<rect x="435" y="359" width="1" height="4" fill="#fff"/>
<rect x="440" y="365" width="4" height="5" fill="#fff"/>
<rect x="438" y="371" width="2" height="1" fill="#000"/>
<rect x="441" y="371" width="2" height="1" fill="#000"/>
<rect x="441" y="359" width="2" height="4" fill="#fff"/>
<rect x="446" y="365" width="5" height="5" fill="#fff"/>
<rect x="444" y="371" width="2" height="1" fill="#000"/>
<rect x="447" y="371" width="2" height="1" fill="#000"/>
<rect x="447" y="359" width="2" height="4" fill="#fff"/>
<rect x="452" y="365" width="5" height="5" fill="#fff"/>
<rect x="451" y="371" width="6" height="1" fill="#000"/>
<rect x="454" y="359" width="1" height="12" fill="#fff"/>
<rect x="458" y="365" width="5" height="5" fill="#fff"/>
<rect x="457" y="371" width="6" height="1" fill="#000"/>
<rect x="460" y="359" width="1" height="12" fill="#fff"/>
<rect x="464" y="365" width="4" height="5" fill="#fff"/>
<rect x="462" y="371" width="2" height="1" fill="#000"/>
<rect x="465" y="371" width="2" height="1" fill="#000"/>
<rect x="466" y="359" width="1" height="4" fill="#fff"/>
<rect x="470" y="365" width="4" height="5" fill="#fff"/>
<rect x="468" y="371" width="2" height="1" fill="#000"/>
<rect x="471" y="371" width="2" height="1" fill="#000"/>
<rect x="471" y="359" width="2" height="4" fill="#fff"/>
<rect x="476" y="365" width="4" height="5" fill="#fff"/>
<rect x="474" y="371" width="2" height="1" fill="#000"/>
<rect x="477" y="371" width="2" height="1" fill="#000"/>
<rect x="477" y="359" width="2" height="4" fill="#fff"/>
<rect x="481" y="365" width="4" height="5" fill="#fff"/>
<rect x="479" y="371" width="2" height="1" fill="#000"/>
<rect x="482" y="371" width="2" height="1" fill="#000"/>
<rect x="482" y="359" width="1" height="4" fill="#fff"/>
<rect x="487" y="365" width="4" height="5" fill="#fff"/>
<rect x="485" y="371" width="2" height="1" fill="#000"/>
<rect x="488" y="371" width="2" height="1" fill="#000"/>
<rect x="488" y="359" width="2" height="4" fill="#fff"/>
<rect x="493" y="365" width="4" height="5" fill="#fff"/>
<rect x="491" y="371" width="2" height="1" fill="#000"/>
<rect x="494" y="371" width="2" height="1" fill="#000"/>
<rect x="494" y="359" width="1" height="4" fill="#fff"/>
<rect x="499" y="365" width="5" height="5" fill="#fff"/>
<rect x="498" y="371" width="6" height="1" fill="#000"/>
<rect x="501" y="359" width="1" height="12" fill="#fff"/>
<rect x="505" y="365" width="4" height="5" fill="#fff"/>
<rect x="503" y="371" width="2" height="1" fill="#000"/>
<rect x="506" y="371" width="2" height="1" fill="#000"/>
<rect x="506" y="359" width="1" height="4" fill="#fff"/>
<rect x="511" y="365" width="4" height="5" fill="#fff"/>
<rect x="509" y="371" width="2" height="1" fill="#000"/>
<rect x="512" y="371" width="2" height="1" fill="#000"/>
<rect x="512" y="359" width="1" height="4" fill="#fff"/>
<rect x="517" y="365" width="4" height="5" fill="#fff"/>
<rect x="515" y="371" width="2" height="1" fill="#000"/>
<rect x="518" y="371" width="2" height="1" fill="#000"/>
<rect x="518" y="359" width="1" height="4" fill="#fff"/>
<rect x="522" y="365" width="4" height="5" fill="#fff"/>
<rect x="520" y="371" width="2" height="1" fill="#000"/>
<rect x="523" y="371" width="2" height="1" fill="#000"/>
<rect x="523" y="359" width="2" height="4" fill="#fff"/>
<rect x="528" y="365" width="4" height="5" fill="#fff"/>
<rect x="526" y="371" width="2" height="1" fill="#000"/>
<rect x="529" y="371" width="2" height="1" fill="#000"/>
<rect x="529" y="359" width="2" height="4" fill="#fff"/>
<rect x="534" y="365" width="4" height="5" fill="#fff"/>
<rect x="532" y="371" width="2" height="1" fill="#000"/>
<rect x="535" y="371" width="2" height="1" fill="#000"/>
<rect x="535" y="359" width="2" height="4" fill="#fff"/>
<rect x="540" y="365" width="4" height="5" fill="#fff"/>
<rect x="538" y="371" width="2" height="1" fill="#000"/>
<rect x="541" y="371" width="2" height="1" fill="#000"/>
<rect x="541" y="359" width="1" height="4" fill="#fff"/>
<rect x="546" y="365" width="4" height="5" fill="#fff"/>
<rect x="544" y="371" width="2" height="1" fill="#000"/>
<rect x="547" y="371" width="2" height="1" fill="#000"/>
<rect x="547" y="359" width="1" height="4" fill="#fff"/>
<rect x="552" y="365" width="5" height="5" fill="#fff"/>
<rect x="550" y="371" width="2" height="1" fill="#000"/>
<rect x="553" y="371" width="2" height="1" fill="#000"/>
<rect x="553" y="359" width="1" height="4" fill="#fff"/>
<rect x="558" y="365" width="4" height="5" fill="#fff"/>
<rect x="556" y="371" width="2" height="1" fill="#000"/>
<rect x="559" y="371" width="2" height="1" fill="#000"/>
<rect x="559" y="359" width="1" height="4" fill="#fff"/>
<rect x="563" y="365" width="4" height="5" fill="#fff"/>
<rect x="561" y="371" width="2" height="1" fill="#000"/>
<rect x="564" y="371" width="2" height="1" fill="#000"/>
<rect x="564" y="359" width="1" height="4" fill="#fff"/>
<rect x="569" y="365" width="4" height="5" fill="#fff"/>
<rect x="567" y="371" width="2" height="1" fill="#000"/>
<rect x="570" y="371" width="2" height="1" fill="#000"/>
<rect x="570" y="359" width="2" height="4" fill="#fff"/>
<rect x="575" y="365" width="4" height="5" fill="#fff"/>
<rect x="573" y="371" width="2" height="1" fill="#000"/>
<rect x="576" y="371" width="2" height="1" fill="#000"/>
<rect x="576" y="359" width="1" height="4" fill="#fff"/>
<rect x="581" y="365" width="4" height="5" fill="#fff"/>
<rect x="579" y="371" width="2" height="1" fill="#000"/>
<rect x="582" y="371" width="2" height="1" fill="#000"/>
<rect x="582" y="359" width="1" height="4" fill="#fff"/>
<rect x="587" y="365" width="1" height="5" fill="#fff"/>
<rect x="389" y="376" width="226" height="1" fill="#000"/>
<rect x="389" y="394" width="226" height="1" fill="#000"/>
<rect x="614" y="376" width="1" height="19" fill="#000"/>
<rect x="389" y="376" width="1" height="8" fill="#000"/>
<rect x="389" y="390" width="1" height="5" fill="#000"/>
<rect x="396" y="376" width="4" height="16" fill="#000"/>
<rect x="396" y="392" width="4" height="1" fill="#000"/>
<rect x="388" y="383" width="9" height="1" fill="#000"/>
<rect x="388" y="390" width="9" height="1" fill="#000"/>
<rect x="388" y="383" width="1" height="8" fill="#000"/>
<rect x="400" y="381" width="3" height="1" fill="#000"/>
<rect x="402" y="381" width="1" height="3" fill="#000"/>
<rect x="402" y="383" width="5" height="1" fill="#000"/>
<rect x="406" y="376" width="1" height="8" fill="#000"/>
<rect x="407" y="381" width="3" height="1" fill="#000"/>
<rect x="409" y="381" width="1" height="11" fill="#000"/>
<rect x="400" y="391" width="10" height="1" fill="#000"/>
<rect x="603" y="376" width="4" height="16" fill="#000"/>
<rect x="603" y="392" width="2" height="1" fill="#000"/>
<rect x="606" y="392" width="1" height="1" fill="#000"/>
<rect x="605" y="378" width="1" height="13" fill="#fff"/>
<rect x="607" y="383" width="8" height="1" fill="#000"/>
<rect x="607" y="390" width="8" height="1" fill="#000"/>
<rect x="595" y="376" width="1" height="9" fill="#000"/>
<rect x="595" y="384" width="6" height="1" fill="#000"/>
<rect x="600" y="381" width="1" height="4" fill="#000"/>
<rect x="600" y="381" width="3" height="1" fill="#000"/>
<rect x="593" y="381" width="3" height="1" fill="#000"/>
<rect x="593" y="381" width="1" height="11" fill="#000"/>
<rect x="593" y="391" width="10" height="1" fill="#000"/>
<rect x="414" y="378" width="174" height="13" fill="#000"/>
<rect x="415" y="384" width="174" height="7" fill="#000"/>
<rect x="417" y="385" width="4" height="5" fill="#fff"/>
<rect x="415" y="391" width="2" height="1" fill="#000"/>
<rect x="418" y="391" width="2" height="1" fill="#000"/>
<rect x="418" y="379" width="1" height="4" fill="#fff"/>
<rect x="423" y="385" width="4" height="5" fill="#fff"/>
<rect x="421" y="391" width="2" height="1" fill="#000"/>
<rect x="424" y="391" width="2" height="1" fill="#000"/>
<rect x="424" y="379" width="1" height="4" fill="#fff"/>
<rect x="429" y="385" width="4" height="5" fill="#fff"/>
<rect x="427" y="391" width="2" height="1" fill="#000"/>
<rect x="430" y="391" width="2" height="1" fill="#000"/>
<rect x="430" y="379" width="1" height="4" fill="#fff"/>
<rect x="434" y="385" width="4" height="5" fill="#fff"/>
<rect x="432" y="391" width="2" height="1" fill="#000"/>
<rect x="435" y="391" width="2" height="1" fill="#000"/>
<rect x="435" y="379" width="1" height="4" fill="#fff"/>
<rect x="440" y="385" width="4" height="5" fill="#fff"/>
<rect x="438" y="391" width="2" height="1" fill="#000"/>
<rect x="441" y="391" width="2" height="1" fill="#000"/>
<rect x="441" y="379" width="2" height="4" fill="#fff"/>
<rect x="446" y="385" width="5" height="5" fill="#fff"/>
<rect x="444" y="391" width="2" height="1" fill="#000"/>
<rect x="447" y="391" width="2" height="1" fill="#000"/>
<rect x="447" y="379" width="2" height="4" fill="#fff"/>
<rect x="452" y="385" width="5" height="5" fill="#fff"/>
<rect x="451" y="391" width="6" height="1" fill="#000"/>
<rect x="454" y="379" width="1" height="12" fill="#fff"/>
<rect x="458" y="385" width="5" height="5" fill="#fff"/>
<rect x="457" y="391" width="6" height="1" fill="#000"/>
<rect x="460" y="379" width="1" height="12" fill="#fff"/>
<rect x="464" y="385" width="4" height="5" fill="#fff"/>
<rect x="462" y="391" width="2" height="1" fill="#000"/>
<rect x="465" y="391" width="2" height="1" fill="#000"/>
<rect x="466" y="379" width="1" height="4" fill="#fff"/>
<rect x="470" y="385" width="4" height="5" fill="#fff"/>
<rect x="468" y="391" width="2" height="1" fill="#000"/>
<rect x="471" y="391" width="2" height="1" fill="#000"/>
<rect x="471" y="379" width="2" height="4" fill="#fff"/>
<rect x="476" y="385" width="4" height="5" fill="#fff"/>
<rect x="474" y="391" width="2" height="1" fill="#000"/>
<rect x="477" y="391" width="2" height="1" fill="#000"/>
<rect x="477" y="379" width="2" height="4" fill="#fff"/>
<rect x="481" y="385" width="4" height="5" fill="#fff"/>
<rect x="479" y="391" width="2" height="1" fill="#000"/>
<rect x="482" y="391" width="2" height="1" fill="#000"/>
<rect x="482" y="379" width="1" height="4" fill="#fff"/>
<rect x="487" y="385" width="4" height="5" fill="#fff"/>
<rect x="485" y="391" width="2" height="1" fill="#000"/>
<rect x="488" y="391" width="2" height="1" fill="#000"/>
<rect x="488" y="379" width="2" height="4" fill="#fff"/>
<rect x="493" y="385" width="4" height="5" fill="#fff"/>
<rect x="491" y="391" width="2" height="1" fill="#000"/>
<rect x="494" y="391" width="2" height="1" fill="#000"/>
<rect x="494" y="379" width="1" height="4" fill="#fff"/>
<rect x="499" y="385" width="5" height="5" fill="#fff"/>
<rect x="498" y="391" width="6" height="1" fill="#000"/>
<rect x="501" y="379" width="1" height="12" fill="#fff"/>
<rect x="505" y="385" width="4" height="5" fill="#fff"/>
<rect x="503" y="391" width="2" height="1" fill="#000"/>
<rect x="506" y="391" width="2" height="1" fill="#000"/>
<rect x="506" y="379" width="1" height="4" fill="#fff"/>
<rect x="511" y="385" width="4" height="5" fill="#fff"/>
<rect x="509" y="391" width="2" height="1" fill="#000"/>
<rect x="512" y="391" width="2" height="1" fill="#000"/>
<rect x="512" y="379" width="1" height="4" fill="#fff"/>
<rect x="517" y="385" width="4" height="5" fill="#fff"/>
<rect x="515" y="391" width="2" height="1" fill="#000"/>
<rect x="518" y="391" width="2" height="1" fill="#000"/>
<rect x="518" y="379" width="1" height="4" fill="#fff"/>
<rect x="522" y="385" width="4" height="5" fill="#fff"/>
<rect x="520" y="391" width="2" height="1" fill="#000"/>
<rect x="523" y="391" width="2" height="1" fill="#000"/>
<rect x="523" y="379" width="2" height="4" fill="#fff"/>
<rect x="528" y="385" width="4" height="5" fill="#fff"/>
<rect x="526" y="391" width="2" height="1" fill="#000"/>
<rect x="529" y="391" width="2" height="1" fill="#000"/>
<rect x="529" y="379" width="2" height="4" fill="#fff"/>
<rect x="534" y="385" width="4" height="5" fill="#fff"/>
<rect x="532" y="391" width="2" height="1" fill="#000"/>
<rect x="535" y="391" width="2" height="1" fill="#000"/>
<rect x="535" y="379" width="2" height="4" fill="#fff"/>
<rect x="540" y="385" width="4" height="5" fill="#fff"/>
<rect x="538" y="391" width="2" height="1" fill="#000"/>
<rect x="541" y="391" width="2" height="1" fill="#000"/>
<rect x="541" y="379" width="1" height="4" fill="#fff"/>
<rect x="546" y="385" width="4" height="5" fill="#fff"/>
<rect x="544" y="391" width="2" height="1" fill="#000"/>
<rect x="547" y="391" width="2" height="1" fill="#000"/>
<rect x="547" y="379" width="1" height="4" fill="#fff"/>
<rect x="552" y="385" width="5" height="5" fill="#fff"/>
<rect x="550" y="391" width="2" height="1" fill="#000"/>
<rect x="553" y="391" width="2" height="1" fill="#000"/>
<rect x="553" y="379" width="1" height="4" fill="#fff"/>
<rect x="558" y="385" width="4" height="5" fill="#fff"/>
<rect x="556" y="391" width="2" height="1" fill="#000"/>
<rect x="559" y="391" width="2" height="1" fill="#000"/>
<rect x="559" y="379" width="1" height="4" fill="#fff"/>
<rect x="563" y="385" width="4" height="5" fill="#fff"/>
<rect x="561" y="391" width="2" height="1" fill="#000"/>
<rect x="564" y="391" width="2" height="1" fill="#000"/>
<rect x="564" y="379" width="1" height="4" fill="#fff"/>
<rect x="569" y="385" width="4" height="5" fill="#fff"/>
<rect x="567" y="391" width="2" height="1" fill="#000"/>
<rect x="570" y="391" width="2" height="1" fill="#000"/>
<rect x="570" y="379" width="2" height="4" fill="#fff"/>
<rect x="575" y="385" width="4" height="5" fill="#fff"/>
<rect x="573" y="391" width="2" height="1" fill="#000"/>
<rect x="576" y="391" width="2" height="1" fill="#000"/>
<rect x="576" y="379" width="1" height="4" fill="#fff"/>
<rect x="581" y="385" width="4" height="5" fill="#fff"/>
<rect x="579" y="391" width="2" height="1" fill="#000"/>
<rect x="582" y="391" width="2" height="1" fill="#000"/>
<rect x="582" y="379" width="1" height="4" fill="#fff"/>
<rect x="587" y="385" width="1" height="5" fill="#fff"/>
<rect x="389" y="396" width="226" height="1" fill="#000"/>
<rect x="389" y="414" width="226" height="1" fill="#000"/>
<rect x="614" y="396" width="1" height="19" fill="#000"/>
<rect x="389" y="396" width="1" height="8" fill="#000"/>
<rect x="389" y="410" width="1" height="5" fill="#000"/>
<rect x="396" y="396" width="4" height="16" fill="#000"/>
<rect x="396" y="412" width="4" height="1" fill="#000"/>
<rect x="388" y="403" width="9" height="1" fill="#000"/>
<rect x="388" y="410" width="9" height="1" fill="#000"/>
<rect x="388" y="403" width="1" height="8" fill="#000"/>
<rect x="400" y="401" width="3" height="1" fill="#000"/>
<rect x="402" y="401" width="1" height="3" fill="#000"/>
<rect x="402" y="403" width="5" height="1" fill="#000"/>
<rect x="406" y="396" width="1" height="8" fill="#000"/>
<rect x="407" y="401" width="3" height="1" fill="#000"/>
<rect x="409" y="401" width="1" height="11" fill="#000"/>
<rect x="400" y="411" width="10" height="1" fill="#000"/>
<rect x="603" y="396" width="4" height="16" fill="#000"/>
<rect x="603" y="412" width="2" height="1" fill="#000"/>
<rect x="606" y="412" width="1" height="1" fill="#000"/>
<rect x="605" y="398" width="1" height="13" fill="#fff"/>
<rect x="607" y="403" width="8" height="1" fill="#000"/>
<rect x="607" y="410" width="8" height="1" fill="#000"/>
<rect x="595" y="396" width="1" height="9" fill="#000"/>
<rect x="595" y="404" width="6" height="1" fill="#000"/>
<rect x="600" y="401" width="1" height="4" fill="#000"/>
<rect x="600" y="401" width="3" height="1" fill="#000"/>
<rect x="593" y="401" width="3" height="1" fill="#000"/>
<rect x="593" y="401" width="1" height="11" fill="#000"/>
<rect x="593" y="411" width="10" height="1" fill="#000"/>
<rect x="414" y="398" width="174" height="13" fill="#000"/>
<rect x="415" y="404" width="174" height="7" fill="#000"/>
<rect x="417" y="405" width="4" height="5" fill="#fff"/>
<rect x="415" y="411" width="2" height="1" fill="#000"/>
<rect x="418" y="411" width="2" height="1" fill="#000"/>
<rect x="418" y="399" width="1" height="4" fill="#fff"/>
<rect x="423" y="405" width="4" height="5" fill="#fff"/>
<rect x="421" y="411" width="2" height="1" fill="#000"/>
<rect x="424" y="411" width="2" height="1" fill="#000"/>
<rect x="424" y="399" width="1" height="4" fill="#fff"/>
<rect x="429" y="405" width="4" height="5" fill="#fff"/>
<rect x="427" y="411" width="2" height="1" fill="#000"/>
<rect x="430" y="411" width="2" height="1" fill="#000"/>
<rect x="430" y="399" width="1" height="4" fill="#fff"/>
<rect x="434" y="405" width="4" height="5" fill="#fff"/>
<rect x="432" y="411" width="2" height="1" fill="#000"/>
<rect x="435" y="411" width="2" height="1" fill="#000"/>
<rect x="435" y="399" width="1" height="4" fill="#fff"/>
<rect x="440" y="405" width="4" height="5" fill="#fff"/>
<rect x="438" y="411" width="2" height="1" fill="#000"/>
<rect x="441" y="411" width="2" height="1" fill="#000"/>
<rect x="441" y="399" width="2" height="4" fill="#fff"/>
<rect x="446" y="405" width="5" height="5" fill="#fff"/>
<rect x="444" y="411" width="2" height="1" fill="#000"/>
<rect x="447" y="411" width="2" height="1" fill="#000"/>
<rect x="447" y="399" width="2" height="4" fill="#fff"/>
<rect x="452" y="405" width="5" height="5" fill="#fff"/>
<rect x="451" y="411" width="6" height="1" fill="#000"/>
<rect x="454" y="399" width="1" height="12" fill="#fff"/>
<rect x="458" y="405" width="5" height="5" fill="#fff"/>
<rect x="457" y="411" width="6" height="1" fill="#000"/>
<rect x="460" y="399" width="1" height="12" fill="#fff"/>
<rect x="464" y="405" width="4" height="5" fill="#fff"/>
<rect x="462" y="411" width="2" height="1" fill="#000"/>
<rect x="465" y="411" width="2" height="1" fill="#000"/>
<rect x="466" y="399" width="1" height="4" fill="#fff"/>
<rect x="470" y="405" width="4" height="5" fill="#fff"/>
<rect x="468" y="411" width="2" height="1" fill="#000"/>
<rect x="471" y="411" width="2" height="1" fill="#000"/>
<rect x="471" y="399" width="2" height="4" fill="#fff"/>
<rect x="476" y="405" width="4" height="5" fill="#fff"/>
<rect x="474" y="411" width="2" height="1" fill="#000"/>
<rect x="477" y="411" width="2" height="1" fill="#000"/>
<rect x="477" y="399" width="2" height="4" fill="#fff"/>
<rect x="481" y="405" width="4" height="5" fill="#fff"/>
<rect x="479" y="411" width="2" height="1" fill="#000"/>
<rect x="482" y="411" width="2" height="1" fill="#000"/>
<rect x="482" y="399" width="1" height="4" fill="#fff"/>
<rect x="487" y="405" width="4" height="5" fill="#fff"/>
<rect x="485" y="411" width="2" height="1" fill="#000"/>
<rect x="488" y="411" width="2" height="1" fill="#000"/>
<rect x="488" y="399" width="2" height="4" fill="#fff"/>
<rect x="493" y="405" width="4" height="5" fill="#fff"/>
<rect x="491" y="411" width="2" height="1" fill="#000"/>
<rect x="494" y="411" width="2" height="1" fill="#000"/>
<rect x="494" y="399" width="1" height="4" fill="#fff"/>
<rect x="499" y="405" width="5" height="5" fill="#fff"/>
<rect x="498" y="411" width="6" height="1" fill="#000"/>
<rect x="501" y="399" width="1" height="12" fill="#fff"/>
<rect x="505" y="405" width="4" height="5" fill="#fff"/>
<rect x="503" y="411" width="2" height="1" fill="#000"/>
<rect x="506" y="411" width="2" height="1" fill="#000"/>
<rect x="506" y="399" width="1" height="4" fill="#fff"/>
<rect x="511" y="405" width="4" height="5" fill="#fff"/>
<rect x="509" y="411" width="2" height="1" fill="#000"/>
<rect x="512" y="411" width="2" height="1" fill="#000"/>
<rect x="512" y="399" width="1" height="4" fill="#fff"/>
<rect x="517" y="405" width="4" height="5" fill="#fff"/>
<rect x="515" y="411" width="2" height="1" fill="#000"/>
<rect x="518" y="411" width="2" height="1" fill="#000"/>
<rect x="518" y="399" width="1" height="4" fill="#fff"/>
<rect x="522" y="405" width="4" height="5" fill="#fff"/>
<rect x="520" y="411" width="2" height="1" fill="#000"/>
<rect x="523" y="411" width="2" height="1" fill="#000"/>
<rect x="523" y="399" width="2" height="4" fill="#fff"/>
<rect x="528" y="405" width="4" height="5" fill="#fff"/>
<rect x="526" y="411" width="2" height="1" fill="#000"/>
<rect x="529" y="411" width="2" height="1" fill="#000"/>
<rect x="529" y="399" width="2" height="4" fill="#fff"/>
<rect x="534" y="405" width="4" height="5" fill="#fff"/>
<rect x="532" y="411" width="2" height="1" fill="#000"/>
<rect x="535" y="411" width="2" height="1" fill="#000"/>
<rect x="535" y="399" width="2" height="4" fill="#fff"/>
<rect x="540" y="405" width="4" height="5" fill="#fff"/>
<rect x="538" y="411" width="2" height="1" fill="#000"/>
<rect x="541" y="411" width="2" height="1" fill="#000"/>
<rect x="541" y="399" width="1" height="4" fill="#fff"/>
<rect x="546" y="405" width="4" height="5" fill="#fff"/>
<rect x="544" y="411" width="2" height="1" fill="#000"/>
<rect x="547" y="411" width="2" height="1" fill="#000"/>
<rect x="547" y="399" width="1" height="4" fill="#fff"/>
<rect x="552" y="405" width="5" height="5" fill="#fff"/>
<rect x="550" y="411" width="2" height="1" fill="#000"/>
<rect x="553" y="411" width="2" height="1" fill="#000"/>
<rect x="553" y="399" width="1" height="4" fill="#fff"/>
<rect x="558" y="405" width="4" height="5" fill="#fff"/>
<rect x="556" y="411" width="2" height="1" fill="#000"/>
<rect x="559" y="411" width="2" height="1" fill="#000"/>
<rect x="559" y="399" width="1" height="4" fill="#fff"/>
<rect x="563" y="405" width="4" height="5" fill="#fff"/>
<rect x="561" y="411" width="2" height="1" fill="#000"/>
<rect x="564" y="411" width="2" height="1" fill="#000"/>
<rect x="564" y="399" width="1" height="4" fill="#fff"/>
<rect x="569" y="405" width="4" height="5" fill="#fff"/>
<rect x="567" y="411" width="2" height="1" fill="#000"/>
<rect x="570" y="411" width="2" height="1" fill="#000"/>
<rect x="570" y="399" width="2" height="4" fill="#fff"/>
<rect x="575" y="405" width="4" height="5" fill="#fff"/>
<rect x="573" y="411" width="2" height="1" fill="#000"/>
<rect x="576" y="411" width="2" height="1" fill="#000"/>
<rect x="576" y="399" width="1" height="4" fill="#fff"/>
<rect x="581" y="405" width="4" height="5" fill="#fff"/>
<rect x="579" y="411" width="2" height="1" fill="#000"/>
<rect x="582" y="411" width="2" height="1" fill="#000"/>
<rect x="582" y="399" width="1" height="4" fill="#fff"/>
<rect x="587" y="405" width="1" height="5" fill="#fff"/>
<rect x="389" y="416" width="226" height="1" fill="#000"/>
<rect x="389" y="434" width="226" height="1" fill="#000"/>
<rect x="614" y="416" width="1" height="19" fill="#000"/>
<rect x="389" y="416" width="1" height="8" fill="#000"/>
<rect x="389" y="430" width="1" height="5" fill="#000"/>
<rect x="396" y="416" width="4" height="16" fill="#000"/>
<rect x="396" y="432" width="4" height="1" fill="#000"/>
<rect x="388" y="423" width="9" height="1" fill="#000"/>
<rect x="388" y="430" width="9" height="1" fill="#000"/>
<rect x="388" y="423" width="1" height="8" fill="#000"/>
<rect x="400" y="421" width="3" height="1" fill="#000"/>
<rect x="402" y="421" width="1" height="3" fill="#000"/>
<rect x="402" y="423" width="5" height="1" fill="#000"/>
<rect x="406" y="416" width="1" height="8" fill="#000"/>
<rect x="407" y="421" width="3" height="1" fill="#000"/>
<rect x="409" y="421" width="1" height="11" fill="#000"/>
<rect x="400" y="431" width="10" height="1" fill="#000"/>
<rect x="603" y="416" width="4" height="16" fill="#000"/>
<rect x="603" y="432" width="2" height="1" fill="#000"/>
<rect x="606" y="432" width="1" height="1" fill="#000"/>
<rect x="605" y="418" width="1" height="13" fill="#fff"/>
<rect x="607" y="423" width="8" height="1" fill="#000"/>
<rect x="607" y="430" width="8" height="1" fill="#000"/>
<rect x="595" y="416" width="1" height="9" fill="#000"/>
<rect x="595" y="424" width="6" height="1" fill="#000"/>
<rect x="600" y="421" width="1" height="4" fill="#000"/>
<rect x="600" y="421" width="3" height="1" fill="#000"/>
<rect x="593" y="421" width="3" height="1" fill="#000"/>
<rect x="593" y="421" width="1" height="11" fill="#000"/>
<rect x="593" y="431" width="10" height="1" fill="#000"/>
<rect x="414" y="418" width="174" height="13" fill="#000"/>
<rect x="415" y="424" width="174" height="7" fill="#000"/>
<rect x="417" y="425" width="4" height="5" fill="#fff"/>
<rect x="415" y="431" width="2" height="1" fill="#000"/>
<rect x="418" y="431" width="2" height="1" fill="#000"/>
<rect x="418" y="419" width="1" height="4" fill="#fff"/>
<rect x="423" y="425" width="4" height="5" fill="#fff"/>
<rect x="421" y="431" width="2" height="1" fill="#000"/>
<rect x="424" y="431" width="2" height="1" fill="#000"/>
<rect x="424" y="419" width="1" height="4" fill="#fff"/>
<rect x="429" y="425" width="4" height="5" fill="#fff"/>
<rect x="427" y="431" width="2" height="1" fill="#000"/>
<rect x="430" y="431" width="2" height="1" fill="#000"/>
<rect x="430" y="419" width="1" height="4" fill="#fff"/>
<rect x="434" y="425" width="4" height="5" fill="#fff"/>
<rect x="432" y="431" width="2" height="1" fill="#000"/>
<rect x="435" y="431" width="2" height="1" fill="#000"/>
<rect x="435" y="419" width="1" height="4" fill="#fff"/>
<rect x="440" y="425" width="4" height="5" fill="#fff"/>
<rect x="438" y="431" width="2" height="1" fill="#000"/>
<rect x="441" y="431" width="2" height="1" fill="#000"/>
<rect x="441" y="419" width="2" height="4" fill="#fff"/>
<rect x="446" y="425" width="5" height="5" fill="#fff"/>
<rect x="444" y="431" width="2" height="1" fill="#000"/>
<rect x="447" y="431" width="2" height="1" fill="#000"/>
<rect x="447" y="419" width="2" height="4" fill="#fff"/>
<rect x="452" y="425" width="5" height="5" fill="#fff"/>
<rect x="451" y="431" width="6" height="1" fill="#000"/>
<rect x="454" y="419" width="1" height="12" fill="#fff"/>
<rect x="458" y="425" width="5" height="5" fill="#fff"/>
<rect x="457" y="431" width="6" height="1" fill="#000"/>
<rect x="460" y="419" width="1" height="12" fill="#fff"/>
<rect x="464" y="425" width="4" height="5" fill="#fff"/>
<rect x="462" y="431" width="2" height="1" fill="#000"/>
<rect x="465" y="431" width="2" height="1" fill="#000"/>
<rect x="466" y="419" width="1" height="4" fill="#fff"/>
<rect x="470" y="425" width="4" height="5" fill="#fff"/>
<rect x="468" y="431" width="2" height="1" fill="#000"/>
<rect x="471" y="431" width="2" height="1" fill="#000"/>
<rect x="471" y="419" width="2" height="4" fill="#fff"/>
<rect x="476" y="425" width="4" height="5" fill="#fff"/>
<rect x="474" y="431" width="2" height="1" fill="#000"/>
<rect x="477" y="431" width="2" height="1" fill="#000"/>
<rect x="477" y="419" width="2" height="4" fill="#fff"/>
<rect x="481" y="425" width="4" height="5" fill="#fff"/>
<rect x="479" y="431" width="2" height="1" fill="#000"/>
<rect x="482" y="431" width="2" height="1" fill="#000"/>
<rect x="482" y="419" width="1" height="4" fill="#fff"/>
<rect x="487" y="425" width="4" height="5" fill="#fff"/>
<rect x="485" y="431" width="2" height="1" fill="#000"/>
<rect x="488" y="431" width="2" height="1" fill="#000"/>
<rect x="488" y="419" width="2" height="4" fill="#fff"/>
<rect x="493" y="425" width="4" height="5" fill="#fff"/>
<rect x="491" y="431" width="2" height="1" fill="#000"/>
<rect x="494" y="431" width="2" height="1" fill="#000"/>
<rect x="494" y="419" width="1" height="4" fill="#fff"/>
<rect x="499" y="425" width="5" height="5" fill="#fff"/>
<rect x="498" y="431" width="6" height="1" fill="#000"/>
<rect x="501" y="419" width="1" height="12" fill="#fff"/>
<rect x="505" y="425" width="4" height="5" fill="#fff"/>
<rect x="503" y="431" width="2" height="1" fill="#000"/>
<rect x="506" y="431" width="2" height="1" fill="#000"/>
<rect x="506" y="419" width="1" height="4" fill="#fff"/>
<rect x="511" y="425" width="4" height="5" fill="#fff"/>
<rect x="509" y="431" width="2" height="1" fill="#000"/>
<rect x="512" y="431" width="2" height="1" fill="#000"/>
<rect x="512" y="419" width="1" height="4" fill="#fff"/>
<rect x="517" y="425" width="4" height="5" fill="#fff"/>
<rect x="515" y="431" width="2" height="1" fill="#000"/>
<rect x="518" y="431" width="2" height="1" fill="#000"/>
<rect x="518" y="419" width="1" height="4" fill="#fff"/>
<rect x="522" y="425" width="4" height="5" fill="#fff"/>
<rect x="520" y="431" width="2" height="1" fill="#000"/>
<rect x="523" y="431" width="2" height="1" fill="#000"/>
<rect x="523" y="419" width="2" height="4" fill="#fff"/>
<rect x="528" y="425" width="4" height="5" fill="#fff"/>
<rect x="526" y="431" width="2" height="1" fill="#000"/>
<rect x="529" y="431" width="2" height="1" fill="#000"/>
<rect x="529" y="419" width="2" height="4" fill="#fff"/>
<rect x="534" y="425" width="4" height="5" fill="#fff"/>
<rect x="532" y="431" width="2" height="1" fill="#000"/>
<rect x="535" y="431" width="2" height="1" fill="#000"/>
<rect x="535" y="419" width="2" height="4" fill="#fff"/>
<rect x="540" y="425" width="4" height="5" fill="#fff"/>
<rect x="538" y="431" width="2" height="1" fill="#000"/>
<rect x="541" y="431" width="2" height="1" fill="#000"/>
<rect x="541" y="419" width="1" height="4" fill="#fff"/>
<rect x="546" y="425" width="4" height="5" fill="#fff"/>
<rect x="544" y="431" width="2" height="1" fill="#000"/>
<rect x="547" y="431" width="2" height="1" fill="#000"/>
<rect x="547" y="419" width="1" height="4" fill="#fff"/>
<rect x="552" y="425" width="5" height="5" fill="#fff"/>
<rect x="550" y="431" width="2" height="1" fill="#000"/>
<rect x="553" y="431" width="2" height="1" fill="#000"/>
<rect x="553" y="419" width="1" height="4" fill="#fff"/>
<rect x="558" y="425" width="4" height="5" fill="#fff"/>
<rect x="556" y="431" width="2" height="1" fill="#000"/>
<rect x="559" y="431" width="2" height="1" fill="#000"/>
<rect x="559" y="419" width="1" height="4" fill="#fff"/>
<rect x="563" y="425" width="4" height="5" fill="#fff"/>
<rect x="561" y="431" width="2" height="1" fill="#000"/>
<rect x="564" y="431" width="2" height="1" fill="#000"/>
<rect x="564" y="419" width="1" height="4" fill="#fff"/>
<rect x="569" y="425" width="4" height="5" fill="#fff"/>
<rect x="567" y="431" width="2" height="1" fill="#000"/>
<rect x="570" y="431" width="2" height="1" fill="#000"/>
<rect x="570" y="419" width="2" height="4" fill="#fff"/>
<rect x="575" y="425" width="4" height="5" fill="#fff"/>
<rect x="573" y="431" width="2" height="1" fill="#000"/>
<rect x="576" y="431" width="2" height="1" fill="#000"/>
<rect x="576" y="419" width="1" height="4" fill="#fff"/>
<rect x="581" y="425" width="4" height="5" fill="#fff"/>
<rect x="579" y="431" width="2" height="1" fill="#000"/>
<rect x="582" y="431" width="2" height="1" fill="#000"/>
<rect x="582" y="419" width="1" height="4" fill="#fff"/>
<rect x="587" y="425" width="1" height="5" fill="#fff"/>
<rect x="389" y="436" width="226" height="1" fill="#000"/>
<rect x="389" y="454" width="226" height="1" fill="#000"/>
<rect x="614" y="436" width="1" height="19" fill="#000"/>
<rect x="389" y="436" width="1" height="8" fill="#000"/>
<rect x="389" y="450" width="1" height="5" fill="#000"/>
<rect x="396" y="436" width="4" height="16" fill="#000"/>
<rect x="396" y="452" width="4" height="1" fill="#000"/>
<rect x="388" y="443" width="9" height="1" fill="#000"/>
<rect x="388" y="450" width="9" height="1" fill="#000"/>
<rect x="388" y="443" width="1" height="8" fill="#000"/>
<rect x="400" y="441" width="3" height="1" fill="#000"/>
<rect x="402" y="441" width="1" height="3" fill="#000"/>
<rect x="402" y="443" width="5" height="1" fill="#000"/>
<rect x="406" y="436" width="1" height="8" fill="#000"/>
<rect x="407" y="441" width="3" height="1" fill="#000"/>
<rect x="409" y="441" width="1" height="11" fill="#000"/>
<rect x="400" y="451" width="10" height="1" fill="#000"/>
<rect x="603" y="436" width="4" height="16" fill="#000"/>
<rect x="603" y="452" width="2" height="1" fill="#000"/>
<rect x="606" y="452" width="1" height="1" fill="#000"/>
<rect x="605" y="438" width="1" height="13" fill="#fff"/>
<rect x="607" y="443" width="8" height="1" fill="#000"/>
<rect x="607" y="450" width="8" height="1" fill="#000"/>
<rect x="595" y="436" width="1" height="9" fill="#000"/>
<rect x="595" y="444" width="6" height="1" fill="#000"/>
<rect x="600" y="441" width="1" height="4" fill="#000"/>
<rect x="600" y="441" width="3" height="1" fill="#000"/>
<rect x="593" y="441" width="3" height="1" fill="#000"/>
<rect x="593" y="441" width="1" height="11" fill="#000"/>
<rect x="593" y="451" width="10" height="1" fill="#000"/>
<rect x="414" y="439" width="174" height="13" fill="#000"/>
<rect x="415" y="445" width="174" height="7" fill="#000"/>
<rect x="417" y="446" width="4" height="5" fill="#fff"/>
<rect x="415" y="452" width="2" height="1" fill="#000"/>
<rect x="418" y="452" width="2" height="1" fill="#000"/>
<rect x="418" y="440" width="1" height="4" fill="#fff"/>
<rect x="423" y="446" width="4" height="5" fill="#fff"/>
<rect x="421" y="452" width="2" height="1" fill="#000"/>
<rect x="424" y="452" width="2" height="1" fill="#000"/>
<rect x="424" y="440" width="1" height="4" fill="#fff"/>
<rect x="429" y="446" width="4" height="5" fill="#fff"/>
<rect x="427" y="452" width="2" height="1" fill="#000"/>
<rect x="430" y="452" width="2" height="1" fill="#000"/>
<rect x="430" y="440" width="1" height="4" fill="#fff"/>
<rect x="434" y="446" width="4" height="5" fill="#fff"/>
<rect x="432" y="452" width="2" height="1" fill="#000"/>
<rect x="435" y="452" width="2" height="1" fill="#000"/>
<rect x="435" y="440" width="1" height="4" fill="#fff"/>
<rect x="440" y="446" width="4" height="5" fill="#fff"/>
<rect x="438" y="452" width="2" height="1" fill="#000"/>
<rect x="441" y="452" width="2" height="1" fill="#000"/>
<rect x="441" y="440" width="2" height="4" fill="#fff"/>
<rect x="446" y="446" width="5" height="5" fill="#fff"/>
<rect x="444" y="452" width="2" height="1" fill="#000"/>
<rect x="447" y="452" width="2" height="1" fill="#000"/>
<rect x="447" y="440" width="2" height="4" fill="#fff"/>
<rect x="452" y="446" width="5" height="5" fill="#fff"/>
<rect x="451" y="452" width="6" height="1" fill="#000"/>
<rect x="454" y="440" width="1" height="12" fill="#fff"/>
<rect x="458" y="446" width="5" height="5" fill="#fff"/>
<rect x="457" y="452" width="6" height="1" fill="#000"/>
<rect x="460" y="440" width="1" height="12" fill="#fff"/>
<rect x="464" y="446" width="4" height="5" fill="#fff"/>
<rect x="462" y="452" width="2" height="1" fill="#000"/>
<rect x="465" y="452" width="2" height="1" fill="#000"/>
<rect x="466" y="440" width="1" height="4" fill="#fff"/>
<rect x="470" y="446" width="4" height="5" fill="#fff"/>
<rect x="468" y="452" width="2" height="1" fill="#000"/>
<rect x="471" y="452" width="2" height="1" fill="#000"/>
<rect x="471" y="440" width="2" height="4" fill="#fff"/>
<rect x="476" y="446" width="4" height="5" fill="#fff"/>
<rect x="474" y="452" width="2" height="1" fill="#000"/>
<rect x="477" y="452" width="2" height="1" fill="#000"/>
<rect x="477" y="440" width="2" height="4" fill="#fff"/>
<rect x="481" y="446" width="4" height="5" fill="#fff"/>
<rect x="479" y="452" width="2" height="1" fill="#000"/>
<rect x="482" y="452" width="2" height="1" fill="#000"/>
<rect x="482" y="440" width="1" height="4" fill="#fff"/>
<rect x="487" y="446" width="4" height="5" fill="#fff"/>
<rect x="485" y="452" width="2" height="1" fill="#000"/>
<rect x="488" y="452" width="2" height="1" fill="#000"/>
<rect x="488" y="440" width="2" height="4" fill="#fff"/>
<rect x="493" y="446" width="4" height="5" fill="#fff"/>
<rect x="491" y="452" width="2" height="1" fill="#000"/>
<rect x="494" y="452" width="2" height="1" fill="#000"/>
<rect x="494" y="440" width="1" height="4" fill="#fff"/>
<rect x="499" y="446" width="5" height="5" fill="#fff"/>
<rect x="498" y="452" width="6" height="1" fill="#000"/>
<rect x="501" y="440" width="1" height="12" fill="#fff"/>
<rect x="505" y="446" width="4" height="5" fill="#fff"/>
<rect x="503" y="452" width="2" height="1" fill="#000"/>
<rect x="506" y="452" width="2" height="1" fill="#000"/>
<rect x="506" y="440" width="1" height="4" fill="#fff"/>
<rect x="511" y="446" width="4" height="5" fill="#fff"/>
<rect x="509" y="452" width="2" height="1" fill="#000"/>
<rect x="512" y="452" width="2" height="1" fill="#000"/>
<rect x="512" y="440" width="1" height="4" fill="#fff"/>
<rect x="517" y="446" width="4" height="5" fill="#fff"/>
<rect x="515" y="452" width="2" height="1" fill="#000"/>
<rect x="518" y="452" width="2" height="1" fill="#000"/>
<rect x="518" y="440" width="1" height="4" fill="#fff"/>
<rect x="522" y="446" width="4" height="5" fill="#fff"/>
<rect x="520" y="452" width="2" height="1" fill="#000"/>
<rect x="523" y="452" width="2" height="1" fill="#000"/>
<rect x="523" y="440" width="2" height="4" fill="#fff"/>
<rect x="528" y="446" width="4" height="5" fill="#fff"/>
<rect x="526" y="452" width="2" height="1" fill="#000"/>
<rect x="529" y="452" width="2" height="1" fill="#000"/>
<rect x="529" y="440" width="2" height="4" fill="#fff"/>
<rect x="534" y="446" width="4" height="5" fill="#fff"/>
<rect x="532" y="452" width="2" height="1" fill="#000"/>
<rect x="535" y="452" width="2" height="1" fill="#000"/>
<rect x="535" y="440" width="2" height="4" fill="#fff"/>
<rect x="540" y="446" width="4" height="5" fill="#fff"/>
<rect x="538" y="452" width="2" height="1" fill="#000"/>
<rect x="541" y="452" width="2" height="1" fill="#000"/>
<rect x="541" y="440" width="1" height="4" fill="#fff"/>
<rect x="546" y="446" width="4" height="5" fill="#fff"/>
<rect x="544" y="452" width="2" height="1" fill="#000"/>
<rect x="547" y="452" width="2" height="1" fill="#000"/>
<rect x="547" y="440" width="1" height="4" fill="#fff"/>
<rect x="552" y="446" width="5" height="5" fill="#fff"/>
<rect x="550" y="452" width="2" height="1" fill="#000"/>
<rect x="553" y="452" width="2" height="1" fill="#000"/>
<rect x="553" y="440" width="1" height="4" fill="#fff"/>
<rect x="558" y="446" width="4" height="5" fill="#fff"/>
<rect x="556" y="452" width="2" height="1" fill="#000"/>
<rect x="559" y="452" width="2" height="1" fill="#000"/>
<rect x="559" y="440" width="1" height="4" fill="#fff"/>
<rect x="563" y="446" width="4" height="5" fill="#fff"/>
<rect x="561" y="452" width="2" height="1" fill="#000"/>
<rect x="564" y="452" width="2" height="1" fill="#000"/>
<rect x="564" y="440" width="1" height="4" fill="#fff"/>
<rect x="569" y="446" width="4" height="5" fill="#fff"/>
<rect x="567" y="452" width="2" height="1" fill="#000"/>
<rect x="570" y="452" width="2" height="1" fill="#000"/>
<rect x="570" y="440" width="2" height="4" fill="#fff"/>
<rect x="575" y="446" width="4" height="5" fill="#fff"/>
<rect x="573" y="452" width="2" height="1" fill="#000"/>
<rect x="576" y="452" width="2" height="1" fill="#000"/>
<rect x="576" y="440" width="1" height="4" fill="#fff"/>
<rect x="581" y="446" width="4" height="5" fill="#fff"/>
<rect x="579" y="452" width="2" height="1" fill="#000"/>
<rect x="582" y="452" width="2" height="1" fill="#000"/>
<rect x="582" y="440" width="1" height="4" fill="#fff"/>
<rect x="587" y="446" width="1" height="5" fill="#fff"/>
<rect x="389" y="456" width="226" height="1" fill="#000"/>
<rect x="389" y="475" width="226" height="1" fill="#000"/>
<rect x="614" y="456" width="1" height="20" fill="#000"/>
<rect x="389" y="456" width="1" height="8" fill="#000"/>
<rect x="389" y="470" width="1" height="6" fill="#000"/>
<rect x="396" y="456" width="4" height="17" fill="#000"/>
<rect x="396" y="473" width="1" height="1" fill="#000"/>
<rect x="388" y="463" width="9" height="1" fill="#000"/>
<rect x="388" y="470" width="9" height="1" fill="#000"/>
<rect x="388" y="463" width="1" height="8" fill="#000"/>
<rect x="400" y="461" width="3" height="1" fill="#000"/>
<rect x="402" y="461" width="1" height="4" fill="#000"/>
<rect x="402" y="464" width="5" height="1" fill="#000"/>
<rect x="406" y="456" width="1" height="9" fill="#000"/>
<rect x="407" y="462" width="3" height="1" fill="#000"/>
<rect x="409" y="462" width="1" height="10" fill="#000"/>
<rect x="400" y="471" width="10" height="1" fill="#000"/>
<rect x="603" y="456" width="4" height="17" fill="#000"/>
<rect x="603" y="473" width="2" height="1" fill="#000"/>
<rect x="606" y="473" width="1" height="1" fill="#000"/>
<rect x="605" y="458" width="1" height="14" fill="#fff"/>
<rect x="607" y="464" width="8" height="1" fill="#000"/>
<rect x="607" y="471" width="8" height="1" fill="#000"/>
<rect x="595" y="456" width="1" height="9" fill="#000"/>
<rect x="595" y="464" width="6" height="1" fill="#000"/>
<rect x="600" y="462" width="1" height="3" fill="#000"/>
<rect x="600" y="462" width="3" height="1" fill="#000"/>
<rect x="593" y="462" width="3" height="1" fill="#000"/>
<rect x="593" y="462" width="1" height="10" fill="#000"/>
<rect x="593" y="471" width="10" height="1" fill="#000"/>
<rect x="414" y="459" width="174" height="13" fill="#000"/>
<rect x="415" y="465" width="174" height="7" fill="#000"/>
<rect x="417" y="466" width="4" height="5" fill="#fff"/>
<rect x="415" y="472" width="2" height="1" fill="#000"/>
<rect x="418" y="472" width="2" height="1" fill="#000"/>
<rect x="418" y="460" width="1" height="4" fill="#fff"/>
<rect x="423" y="466" width="4" height="5" fill="#fff"/>
<rect x="421" y="472" width="2" height="1" fill="#000"/>
<rect x="424" y="472" width="2" height="1" fill="#000"/>
<rect x="424" y="460" width="1" height="4" fill="#fff"/>
<rect x="429" y="466" width="4" height="5" fill="#fff"/>
<rect x="427" y="472" width="2" height="1" fill="#000"/>
<rect x="430" y="472" width="2" height="1" fill="#000"/>
<rect x="430" y="460" width="1" height="4" fill="#fff"/>
<rect x="434" y="466" width="4" height="5" fill="#fff"/>
<rect x="432" y="472" width="2" height="1" fill="#000"/>
<rect x="435" y="472" width="2" height="1" fill="#000"/>
<rect x="435" y="460" width="1" height="4" fill="#fff"/>
<rect x="440" y="466" width="4" height="5" fill="#fff"/>
<rect x="438" y="472" width="2" height="1" fill="#000"/>
<rect x="441" y="472" width="2" height="1" fill="#000"/>
<rect x="441" y="460" width="2" height="4" fill="#fff"/>
<rect x="446" y="466" width="5" height="5" fill="#fff"/>
<rect x="444" y="472" width="2" height="1" fill="#000"/>
<rect x="447" y="472" width="2" height="1" fill="#000"/>
<rect x="447" y="460" width="2" height="4" fill="#fff"/>
<rect x="452" y="466" width="5" height="5" fill="#fff"/>
<rect x="451" y="472" width="6" height="1" fill="#000"/>
<rect x="454" y="460" width="1" height="12" fill="#fff"/>
<rect x="458" y="466" width="5" height="5" fill="#fff"/>
<rect x="457" y="472" width="6" height="1" fill="#000"/>
<rect x="460" y="460" width="1" height="12" fill="#fff"/>
<rect x="464" y="466" width="4" height="5" fill="#fff"/>
<rect x="462" y="472" width="2" height="1" fill="#000"/>
<rect x="465" y="472" width="2" height="1" fill="#000"/>
<rect x="466" y="460" width="1" height="4" fill="#fff"/>
<rect x="470" y="466" width="4" height="5" fill="#fff"/>
<rect x="468" y="472" width="2" height="1" fill="#000"/>
<rect x="471" y="472" width="2" height="1" fill="#000"/>
<rect x="471" y="460" width="2" height="4" fill="#fff"/>
<rect x="476" y="466" width="4" height="5" fill="#fff"/>
<rect x="474" y="472" width="2" height="1" fill="#000"/>
<rect x="477" y="472" width="2" height="1" fill="#000"/>
<rect x="477" y="460" width="2" height="4" fill="#fff"/>
<rect x="481" y="466" width="4" height="5" fill="#fff"/>
<rect x="479" y="472" width="2" height="1" fill="#000"/>
<rect x="482" y="472" width="2" height="1" fill="#000"/>
<rect x="482" y="460" width="1" height="4" fill="#fff"/>
<rect x="487" y="466" width="4" height="5" fill="#fff"/>
<rect x="485" y="472" width="2" height="1" fill="#000"/>
<rect x="488" y="472" width="2" height="1" fill="#000"/>
<rect x="488" y="460" width="2" height="4" fill="#fff"/>
<rect x="493" y="466" width="4" height="5" fill="#fff"/>
<rect x="491" y="472" width="2" height="1" fill="#000"/>
<rect x="494" y="472" width="2" height="1" fill="#000"/>
<rect x="494" y="460" width="1" height="4" fill="#fff"/>
<rect x="499" y="466" width="5" height="5" fill="#fff"/>
<rect x="498" y="472" width="6" height="1" fill="#000"/>
<rect x="501" y="460" width="1" height="12" fill="#fff"/>
<rect x="505" y="466" width="4" height="5" fill="#fff"/>
<rect x="503" y="472" width="2" height="1" fill="#000"/>
<rect x="506" y="472" width="2" height="1" fill="#000"/>
<rect x="506" y="460" width="1" height="4" fill="#fff"/>
<rect x="511" y="466" width="4" height="5" fill="#fff"/>
<rect x="509" y="472" width="2" height="1" fill="#000"/>
<rect x="512" y="472" width="2" height="1" fill="#000"/>
<rect x="512" y="460" width="1" height="4" fill="#fff"/>
<rect x="517" y="466" width="4" height="5" fill="#fff"/>
<rect x="515" y="472" width="2" height="1" fill="#000"/>
<rect x="518" y="472" width="2" height="1" fill="#000"/>
<rect x="518" y="460" width="1" height="4" fill="#fff"/>
<rect x="522" y="466" width="4" height="5" fill="#fff"/>
<rect x="520" y="472" width="2" height="1" fill="#000"/>
<rect x="523" y="472" width="2" height="1" fill="#000"/>
<rect x="523" y="460" width="2" height="4" fill="#fff"/>
<rect x="528" y="466" width="4" height="5" fill="#fff"/>
<rect x="526" y="472" width="2" height="1" fill="#000"/>
<rect x="529" y="472" width="2" height="1" fill="#000"/>
<rect x="529" y="460" width="2" height="4" fill="#fff"/>
<rect x="534" y="466" width="4" height="5" fill="#fff"/>
<rect x="532" y="472" width="2" height="1" fill="#000"/>
<rect x="535" y="472" width="2" height="1" fill="#000"/>
<rect x="535" y="460" width="2" height="4" fill="#fff"/>
<rect x="540" y="466" width="4" height="5" fill="#fff"/>
<rect x="538" y="472" width="2" height="1" fill="#000"/>
<rect x="541" y="472" width="2" height="1" fill="#000"/>
<rect x="541" y="460" width="1" height="4" fill="#fff"/>
<rect x="546" y="466" width="4" height="5" fill="#fff"/>
<rect x="544" y="472" width="2" height="1" fill="#000"/>
<rect x="547" y="472" width="2" height="1" fill="#000"/>
<rect x="547" y="460" width="1" height="4" fill="#fff"/>
<rect x="552" y="466" width="5" height="5" fill="#fff"/>
<rect x="550" y="472" width="2" height="1" fill="#000"/>
<rect x="553" y="472" width="2" height="1" fill="#000"/>
<rect x="553" y="460" width="1" height="4" fill="#fff"/>
<rect x="558" y="466" width="4" height="5" fill="#fff"/>
<rect x="556" y="472" width="2" height="1" fill="#000"/>
<rect x="559" y="472" width="2" height="1" fill="#000"/>
<rect x="559" y="460" width="1" height="4" fill="#fff"/>
<rect x="563" y="466" width="4" height="5" fill="#fff"/>
<rect x="561" y="472" width="2" height="1" fill="#000"/>
<rect x="564" y="472" width="2" height="1" fill="#000"/>
<rect x="564" y="460" width="1" height="4" fill="#fff"/>
<rect x="569" y="466" width="4" height="5" fill="#fff"/>
<rect x="567" y="472" width="2" height="1" fill="#000"/>
<rect x="570" y="472" width="2" height="1" fill="#000"/>
<rect x="570" y="460" width="2" height="4" fill="#fff"/>
<rect x="575" y="466" width="4" height="5" fill="#fff"/>
<rect x="573" y="472" width="2" height="1" fill="#000"/>
<rect x="576" y="472" width="2" height="1" fill="#000"/>
<rect x="576" y="460" width="1" height="4" fill="#fff"/>
<rect x="581" y="466" width="4" height="5" fill="#fff"/>
<rect x="579" y="472" width="2" height="1" fill="#000"/>
<rect x="582" y="472" width="2" height="1" fill="#000"/>
<rect x="582" y="460" width="1" height="4" fill="#fff"/>
<rect x="587" y="466" width="1" height="5" fill="#fff"/>
<rect x="389" y="477" width="226" height="1" fill="#000"/>
<rect x="389" y="495" width="226" height="1" fill="#000"/>
<rect x="614" y="477" width="1" height="19" fill="#000"/>
<rect x="389" y="477" width="1" height="8" fill="#000"/>
<rect x="389" y="491" width="1" height="5" fill="#000"/>
<rect x="396" y="477" width="4" height="16" fill="#000"/>
<rect x="396" y="493" width="4" height="1" fill="#000"/>
<rect x="388" y="484" width="9" height="1" fill="#000"/>
<rect x="388" y="491" width="9" height="1" fill="#000"/>
<rect x="388" y="484" width="1" height="8" fill="#000"/>
<rect x="400" y="482" width="3" height="1" fill="#000"/>
<rect x="402" y="482" width="1" height="3" fill="#000"/>
<rect x="402" y="484" width="5" height="1" fill="#000"/>
<rect x="406" y="477" width="1" height="8" fill="#000"/>
<rect x="407" y="482" width="3" height="1" fill="#000"/>
<rect x="409" y="482" width="1" height="11" fill="#000"/>
<rect x="400" y="492" width="10" height="1" fill="#000"/>
<rect x="603" y="477" width="4" height="16" fill="#000"/>
<rect x="603" y="493" width="2" height="1" fill="#000"/>
<rect x="606" y="493" width="1" height="1" fill="#000"/>
<rect x="605" y="479" width="1" height="13" fill="#fff"/>
<rect x="607" y="484" width="8" height="1" fill="#000"/>
<rect x="607" y="491" width="8" height="1" fill="#000"/>
<rect x="595" y="477" width="1" height="9" fill="#000"/>
<rect x="595" y="485" width="6" height="1" fill="#000"/>
<rect x="600" y="482" width="1" height="4" fill="#000"/>
<rect x="600" y="482" width="3" height="1" fill="#000"/>
<rect x="593" y="482" width="3" height="1" fill="#000"/>
<rect x="593" y="482" width="1" height="11" fill="#000"/>
<rect x="593" y="492" width="10" height="1" fill="#000"/>
<rect x="414" y="479" width="174" height="13" fill="#000"/>
<rect x="415" y="485" width="174" height="7" fill="#000"/>
<rect x="417" y="486" width="4" height="5" fill="#fff"/>
<rect x="415" y="492" width="2" height="1" fill="#000"/>
<rect x="418" y="492" width="2" height="1" fill="#000"/>
<rect x="418" y="480" width="1" height="4" fill="#fff"/>
<rect x="423" y="486" width="4" height="5" fill="#fff"/>
<rect x="421" y="492" width="2" height="1" fill="#000"/>
<rect x="424" y="492" width="2" height="1" fill="#000"/>
<rect x="424" y="480" width="1" height="4" fill="#fff"/>
<rect x="429" y="486" width="4" height="5" fill="#fff"/>
<rect x="427" y="492" width="2" height="1" fill="#000"/>
<rect x="430" y="492" width="2" height="1" fill="#000"/>
<rect x="430" y="480" width="1" height="4" fill="#fff"/>
<rect x="434" y="486" width="4" height="5" fill="#fff"/>
<rect x="432" y="492" width="2" height="1" fill="#000"/>
<rect x="435" y="492" width="2" height="1" fill="#000"/>
<rect x="435" y="480" width="1" height="4" fill="#fff"/>
<rect x="440" y="486" width="4" height="5" fill="#fff"/>
<rect x="438" y="492" width="2" height="1" fill="#000"/>
<rect x="441" y="492" width="2" height="1" fill="#000"/>
<rect x="441" y="480" width="2" height="4" fill="#fff"/>
<rect x="446" y="486" width="5" height="5" fill="#fff"/>
<rect x="444" y="492" width="2" height="1" fill="#000"/>
<rect x="447" y="492" width="2" height="1" fill="#000"/>
<rect x="447" y="480" width="2" height="4" fill="#fff"/>
<rect x="452" y="486" width="5" height="5" fill="#fff"/>
<rect x="451" y="492" width="6" height="1" fill="#000"/>
<rect x="454" y="480" width="1" height="12" fill="#fff"/>
<rect x="458" y="486" width="5" height="5" fill="#fff"/>
<rect x="457" y="492" width="6" height="1" fill="#000"/>
<rect x="460" y="480" width="1" height="12" fill="#fff"/>
<rect x="464" y="486" width="4" height="5" fill="#fff"/>
<rect x="462" y="492" width="2" height="1" fill="#000"/>
<rect x="465" y="492" width="2" height="1" fill="#000"/>
<rect x="466" y="480" width="1" height="4" fill="#fff"/>
<rect x="470" y="486" width="4" height="5" fill="#fff"/>
<rect x="468" y="492" width="2" height="1" fill="#000"/>
<rect x="471" y="492" width="2" height="1" fill="#000"/>
<rect x="471" y="480" width="2" height="4" fill="#fff"/>
<rect x="476" y="486" width="4" height="5" fill="#fff"/>
<rect x="474" y="492" width="2" height="1" fill="#000"/>
<rect x="477" y="492" width="2" height="1" fill="#000"/>
<rect x="477" y="480" width="2" height="4" fill="#fff"/>
<rect x="481" y="486" width="4" height="5" fill="#fff"/>
<rect x="479" y="492" width="2" height="1" fill="#000"/>
<rect x="482" y="492" width="2" height="1" fill="#000"/>
<rect x="482" y="480" width="1" height="4" fill="#fff"/>
<rect x="487" y="486" width="4" height="5" fill="#fff"/>
<rect x="485" y="492" width="2" height="1" fill="#000"/>
<rect x="488" y="492" width="2" height="1" fill="#000"/>
<rect x="488" y="480" width="2" height="4" fill="#fff"/>
<rect x="493" y="486" width="4" height="5" fill="#fff"/>
<rect x="491" y="492" width="2" height="1" fill="#000"/>
<rect x="494" y="492" width="2" height="1" fill="#000"/>
<rect x="494" y="480" width="1" height="4" fill="#fff"/>
<rect x="499" y="486" width="5" height="5" fill="#fff"/>
<rect x="498" y="492" width="6" height="1" fill="#000"/>
<rect x="501" y="480" width="1" height="12" fill="#fff"/>
<rect x="505" y="486" width="4" height="5" fill="#fff"/>
<rect x="503" y="492" width="2" height="1" fill="#000"/>
<rect x="506" y="492" width="2" height="1" fill="#000"/>
<rect x="506" y="480" width="1" height="4" fill="#fff"/>
<rect x="511" y="486" width="4" height="5" fill="#fff"/>
<rect x="509" y="492" width="2" height="1" fill="#000"/>
<rect x="512" y="492" width="2" height="1" fill="#000"/>
<rect x="512" y="480" width="1" height="4" fill="#fff"/>
<rect x="517" y="486" width="4" height="5" fill="#fff"/>
<rect x="515" y="492" width="2" height="1" fill="#000"/>
<rect x="518" y="492" width="2" height="1" fill="#000"/>
<rect x="518" y="480" width="1" height="4" fill="#fff"/>
<rect x="522" y="486" width="4" height="5" fill="#fff"/>
<rect x="520" y="492" width="2" height="1" fill="#000"/>
<rect x="523" y="492" width="2" height="1" fill="#000"/>
<rect x="523" y="480" width="2" height="4" fill="#fff"/>
<rect x="528" y="486" width="4" height="5" fill="#fff"/>
<rect x="526" y="492" width="2" height="1" fill="#000"/>
<rect x="529" y="492" width="2" height="1" fill="#000"/>
<rect x="529" y="480" width="2" height="4" fill="#fff"/>
<rect x="534" y="486" width="4" height="5" fill="#fff"/>
<rect x="532" y="492" width="2" height="1" fill="#000"/>
<rect x="535" y="492" width="2" height="1" fill="#000"/>
<rect x="535" y="480" width="2" height="4" fill="#fff"/>
<rect x="540" y="486" width="4" height="5" fill="#fff"/>
<rect x="538" y="492" width="2" height="1" fill="#000"/>
<rect x="541" y="492" width="2" height="1" fill="#000"/>
<rect x="541" y="480" width="1" height="4" fill="#fff"/>
<rect x="546" y="486" width="4" height="5" fill="#fff"/>
<rect x="544" y="492" width="2" height="1" fill="#000"/>
<rect x="547" y="492" width="2" height="1" fill="#000"/>
<rect x="547" y="480" width="1" height="4" fill="#fff"/>
<rect x="552" y="486" width="5" height="5" fill="#fff"/>
<rect x="550" y="492" width="2" height="1" fill="#000"/>
<rect x="553" y="492" width="2" height="1" fill="#000"/>
<rect x="553" y="480" width="1" height="4" fill="#fff"/>
<rect x="558" y="486" width="4" height="5" fill="#fff"/>
<rect x="556" y="492" width="2" height="1" fill="#000"/>
<rect x="559" y="492" width="2" height="1" fill="#000"/>
<rect x="559" y="480" width="1" height="4" fill="#fff"/>
<rect x="563" y="486" width="4" height="5" fill="#fff"/>
<rect x="561" y="492" width="2" height="1" fill="#000"/>
<rect x="564" y="492" width="2" height="1" fill="#000"/>
<rect x="564" y="480" width="1" height="4" fill="#fff"/>
<rect x="569" y="486" width="4" height="5" fill="#fff"/>
<rect x="567" y="492" width="2" height="1" fill="#000"/>
<rect x="570" y="492" width="2" height="1" fill="#000"/>
<rect x="570" y="480" width="2" height="4" fill="#fff"/>
<rect x="575" y="486" width="4" height="5" fill="#fff"/>
<rect x="573" y="492" width="2" height="1" fill="#000"/>
<rect x="576" y="492" width="2" height="1" fill="#000"/>
<rect x="576" y="480" width="1" height="4" fill="#fff"/>
<rect x="581" y="486" width="4" height="5" fill="#fff"/>
<rect x="579" y="492" width="2" height="1" fill="#000"/>
<rect x="582" y="492" width="2" height="1" fill="#000"/>
<rect x="582" y="480" width="1" height="4" fill="#fff"/>
<rect x="587" y="486" width="1" height="5" fill="#fff"/>
<rect x="415" y="492" width="174" height="1" fill="#000"/>
<rect x="389" y="496" width="226" height="1" fill="#000"/>
<rect x="389" y="515" width="226" height="1" fill="#000"/>
<rect x="614" y="496" width="1" height="20" fill="#000"/>
<rect x="389" y="496" width="1" height="8" fill="#000"/>
<rect x="389" y="510" width="1" height="6" fill="#000"/>
<rect x="396" y="496" width="4" height="17" fill="#000"/>
<rect x="396" y="513" width="1" height="1" fill="#000"/>
<rect x="388" y="503" width="9" height="1" fill="#000"/>
<rect x="388" y="510" width="9" height="1" fill="#000"/>
<rect x="388" y="503" width="1" height="8" fill="#000"/>
<rect x="400" y="501" width="3" height="1" fill="#000"/>
<rect x="402" y="501" width="1" height="4" fill="#000"/>
<rect x="402" y="504" width="5" height="1" fill="#000"/>
<rect x="406" y="496" width="1" height="9" fill="#000"/>
<rect x="407" y="502" width="3" height="1" fill="#000"/>
<rect x="409" y="502" width="1" height="10" fill="#000"/>
<rect x="400" y="511" width="10" height="1" fill="#000"/>
<rect x="603" y="496" width="4" height="17" fill="#000"/>
<rect x="603" y="513" width="2" height="1" fill="#000"/>
<rect x="606" y="513" width="1" height="1" fill="#000"/>
<rect x="605" y="498" width="1" height="14" fill="#fff"/>
<rect x="607" y="504" width="8" height="1" fill="#000"/>
<rect x="607" y="511" width="8" height="1" fill="#000"/>
<rect x="595" y="496" width="1" height="9" fill="#000"/>
<rect x="595" y="504" width="6" height="1" fill="#000"/>
<rect x="600" y="502" width="1" height="3" fill="#000"/>
<rect x="600" y="502" width="3" height="1" fill="#000"/>
<rect x="593" y="502" width="3" height="1" fill="#000"/>
<rect x="593" y="502" width="1" height="10" fill="#000"/>
<rect x="593" y="511" width="10" height="1" fill="#000"/>
<rect x="414" y="499" width="174" height="13" fill="#000"/>
<rect x="415" y="505" width="174" height="7" fill="#000"/>
<rect x="417" y="506" width="4" height="5" fill="#fff"/>
<rect x="415" y="512" width="2" height="1" fill="#000"/>
<rect x="418" y="512" width="2" height="1" fill="#000"/>
<rect x="418" y="500" width="1" height="4" fill="#fff"/>
<rect x="423" y="506" width="4" height="5" fill="#fff"/>
<rect x="421" y="512" width="2" height="1" fill="#000"/>
<rect x="424" y="512" width="2" height="1" fill="#000"/>
<rect x="424" y="500" width="1" height="4" fill="#fff"/>
<rect x="429" y="506" width="4" height="5" fill="#fff"/>
<rect x="427" y="512" width="2" height="1" fill="#000"/>
<rect x="430" y="512" width="2" height="1" fill="#000"/>
<rect x="430" y="500" width="1" height="4" fill="#fff"/>
<rect x="434" y="506" width="4" height="5" fill="#fff"/>
<rect x="432" y="512" width="2" height="1" fill="#000"/>
<rect x="435" y="512" width="2" height="1" fill="#000"/>
<rect x="435" y="500" width="1" height="4" fill="#fff"/>
<rect x="440" y="506" width="4" height="5" fill="#fff"/>
<rect x="438" y="512" width="2" height="1" fill="#000"/>
<rect x="441" y="512" width="2" height="1" fill="#000"/>
<rect x="441" y="500" width="2" height="4" fill="#fff"/>
<rect x="446" y="506" width="5" height="5" fill="#fff"/>
<rect x="444" y="512" width="2" height="1" fill="#000"/>
<rect x="447" y="512" width="2" height="1" fill="#000"/>
<rect x="447" y="500" width="2" height="4" fill="#fff"/>
<rect x="452" y="506" width="5" height="5" fill="#fff"/>
<rect x="451" y="512" width="6" height="1" fill="#000"/>
<rect x="454" y="500" width="1" height="12" fill="#fff"/>
<rect x="458" y="506" width="5" height="5" fill="#fff"/>
<rect x="457" y="512" width="6" height="1" fill="#000"/>
<rect x="460" y="500" width="1" height="12" fill="#fff"/>
<rect x="464" y="506" width="4" height="5" fill="#fff"/>
<rect x="462" y="512" width="2" height="1" fill="#000"/>
<rect x="465" y="512" width="2" height="1" fill="#000"/>
<rect x="466" y="500" width="1" height="4" fill="#fff"/>
<rect x="470" y="506" width="4" height="5" fill="#fff"/>
<rect x="468" y="512" width="2" height="1" fill="#000"/>
<rect x="471" y="512" width="2" height="1" fill="#000"/>
<rect x="471" y="500" width="2" height="4" fill="#fff"/>
<rect x="476" y="506" width="4" height="5" fill="#fff"/>
<rect x="474" y="512" width="2" height="1" fill="#000"/>
<rect x="477" y="512" width="2" height="1" fill="#000"/>
<rect x="477" y="500" width="2" height="4" fill="#fff"/>
<rect x="481" y="506" width="4" height="5" fill="#fff"/>
<rect x="479" y="512" width="2" height="1" fill="#000"/>
<rect x="482" y="512" width="2" height="1" fill="#000"/>
<rect x="482" y="500" width="1" height="4" fill="#fff"/>
<rect x="487" y="506" width="4" height="5" fill="#fff"/>
<rect x="485" y="512" width="2" height="1" fill="#000"/>
<rect x="488" y="512" width="2" height="1" fill="#000"/>
<rect x="488" y="500" width="2" height="4" fill="#fff"/>
<rect x="493" y="506" width="4" height="5" fill="#fff"/>
<rect x="491" y="512" width="2" height="1" fill="#000"/>
<rect x="494" y="512" width="2" height="1" fill="#000"/>
<rect x="494" y="500" width="1" height="4" fill="#fff"/>
<rect x="499" y="506" width="5" height="5" fill="#fff"/>
<rect x="498" y="512" width="6" height="1" fill="#000"/>
<rect x="501" y="500" width="1" height="12" fill="#fff"/>
<rect x="505" y="506" width="4" height="5" fill="#fff"/>
<rect x="503" y="512" width="2" height="1" fill="#000"/>
<rect x="506" y="512" width="2" height="1" fill="#000"/>
<rect x="506" y="500" width="1" height="4" fill="#fff"/>
<rect x="511" y="506" width="4" height="5" fill="#fff"/>
<rect x="509" y="512" width="2" height="1" fill="#000"/>
<rect x="512" y="512" width="2" height="1" fill="#000"/>
<rect x="512" y="500" width="1" height="4" fill="#fff"/>
<rect x="517" y="506" width="4" height="5" fill="#fff"/>
<rect x="515" y="512" width="2" height="1" fill="#000"/>
<rect x="518" y="512" width="2" height="1" fill="#000"/>
<rect x="518" y="500" width="1" height="4" fill="#fff"/>
<rect x="522" y="506" width="4" height="5" fill="#fff"/>
<rect x="520" y="512" width="2" height="1" fill="#000"/>
<rect x="523" y="512" width="2" height="1" fill="#000"/>
<rect x="523" y="500" width="2" height="4" fill="#fff"/>
<rect x="528" y="506" width="4" height="5" fill="#fff"/>
<rect x="526" y="512" width="2" height="1" fill="#000"/>
<rect x="529" y="512" width="2" height="1" fill="#000"/>
<rect x="529" y="500" width="2" height="4" fill="#fff"/>
<rect x="534" y="506" width="4" height="5" fill="#fff"/>
<rect x="532" y="512" width="2" height="1" fill="#000"/>
<rect x="535" y="512" width="2" height="1" fill="#000"/>
<rect x="535" y="500" width="2" height="4" fill="#fff"/>
<rect x="540" y="506" width="4" height="5" fill="#fff"/>
<rect x="538" y="512" width="2" height="1" fill="#000"/>
<rect x="541" y="512" width="2" height="1" fill="#000"/>
<rect x="541" y="500" width="1" height="4" fill="#fff"/>
<rect x="546" y="506" width="4" height="5" fill="#fff"/>
<rect x="544" y="512" width="2" height="1" fill="#000"/>
<rect x="547" y="512" width="2" height="1" fill="#000"/>
<rect x="547" y="500" width="1" height="4" fill="#fff"/>
<rect x="552" y="506" width="5" height="5" fill="#fff"/>
<rect x="550" y="512" width="2" height="1" fill="#000"/>
<rect x="553" y="512" width="2" height="1" fill="#000"/>
<rect x="553" y="500" width="1" height="4" fill="#fff"/>
<rect x="558" y="506" width="4" height="5" fill="#fff"/>
<rect x="556" y="512" width="2" height="1" fill="#000"/>
<rect x="559" y="512" width="2" height="1" fill="#000"/>
<rect x="559" y="500" width="1" height="4" fill="#fff"/>
<rect x="563" y="506" width="4" height="5" fill="#fff"/>
<rect x="561" y="512" width="2" height="1" fill="#000"/>
<rect x="564" y="512" width="2" height="1" fill="#000"/>
<rect x="564" y="500" width="1" height="4" fill="#fff"/>
<rect x="569" y="506" width="4" height="5" fill="#fff"/>
<rect x="567" y="512" width="2" height="1" fill="#000"/>
<rect x="570" y="512" width="2" height="1" fill="#000"/>
<rect x="570" y="500" width="2" height="4" fill="#fff"/>
<rect x="575" y="506" width="4" height="5" fill="#fff"/>
<rect x="573" y="512" width="2" height="1" fill="#000"/>
<rect x="576" y="512" width="2" height="1" fill="#000"/>
<rect x="576" y="500" width="1" height="4" fill="#fff"/>
<rect x="581" y="506" width="4" height="5" fill="#fff"/>
<rect x="579" y="512" width="2" height="1" fill="#000"/>
<rect x="582" y="512" width="2" height="1" fill="#000"/>
<rect x="582" y="500" width="1" height="4" fill="#fff"/>
<rect x="587" y="506" width="1" height="5" fill="#fff"/>
<!-- BANK labels -->
<path d="M474,386 H530 L532,388 V403 H472 V388 Z" fill="#000" shape-rendering="crispEdges"/>
<path d="M475,388 H528 L529,389 V402 H474 V389 Z" fill="#fff" shape-rendering="crispEdges"/>
<text transform="scale(0.74,1)" x="645.60 657.02 669.07 681.53 691.35 701.18" y="400" font-size="13.8">BANK 1</text>
<path d="M474,466 H530 L532,468 V484 H472 V468 Z" fill="#000" shape-rendering="crispEdges"/>
<path d="M475,469 H528 L529,470 V483 H474 V470 Z" fill="#fff" shape-rendering="crispEdges"/>
<text transform="scale(0.74,1)" x="645.60 657.02 669.07 681.53 691.25 700.96" y="480" font-size="13.8">BANK 0</text>
<!-- power connector -->
<rect x="670" y="368" width="24" height="112" fill="#000"/>
<rect x="671" y="369" width="22" height="110" fill="#fff"/>
<rect x="673" y="369" width="7" height="1" fill="#000"/>
<rect x="674" y="369" width="1" height="1" fill="#fff"/>
<rect x="676" y="369" width="2" height="1" fill="#fff"/>
<rect x="673" y="477" width="7" height="2" fill="#000"/>
<path d="M674.6,480 L676.5,477.3 L678.4,480 Z" fill="#fff" />
<rect x="673" y="373" width="7" height="8" fill="#000"/>
<rect x="674" y="374" width="5" height="6" fill="#fff"/>
<rect x="673" y="383" width="7" height="8" fill="#000"/>
<rect x="674" y="384" width="5" height="6" fill="#fff"/>
<rect x="673" y="393" width="7" height="7" fill="#000"/>
<rect x="674" y="394" width="5" height="5" fill="#fff"/>
<rect x="673" y="402" width="7" height="7" fill="#000"/>
<rect x="674" y="403" width="5" height="5" fill="#fff"/>
<rect x="673" y="411" width="7" height="7" fill="#000"/>
<rect x="674" y="412" width="5" height="5" fill="#fff"/>
<rect x="673" y="420" width="7" height="8" fill="#000"/>
<rect x="674" y="421" width="5" height="6" fill="#fff"/>
<rect x="673" y="429" width="7" height="8" fill="#000"/>
<rect x="674" y="430" width="5" height="6" fill="#fff"/>
<rect x="673" y="439" width="7" height="7" fill="#000"/>
<rect x="674" y="440" width="5" height="5" fill="#fff"/>
<rect x="673" y="448" width="7" height="7" fill="#000"/>
<rect x="674" y="449" width="5" height="5" fill="#fff"/>
<rect x="673" y="457" width="7" height="7" fill="#000"/>
<rect x="674" y="458" width="5" height="5" fill="#fff"/>
<rect x="673" y="467" width="7" height="8" fill="#000"/>
<rect x="674" y="468" width="5" height="6" fill="#fff"/>
<rect x="681" y="369" width="3" height="8" fill="#000"/>
<rect x="689" y="369" width="1" height="8" fill="#000"/>
<rect x="688" y="370" width="2" height="6" fill="#000"/>
<rect x="688" y="371" width="3" height="4" fill="#000"/>
<rect x="681" y="379" width="3" height="7" fill="#000"/>
<rect x="689" y="379" width="1" height="7" fill="#000"/>
<rect x="688" y="380" width="2" height="5" fill="#000"/>
<rect x="688" y="381" width="3" height="4" fill="#000"/>
<rect x="681" y="388" width="3" height="7" fill="#000"/>
<rect x="689" y="388" width="1" height="7" fill="#000"/>
<rect x="688" y="389" width="2" height="5" fill="#000"/>
<rect x="688" y="390" width="3" height="4" fill="#000"/>
<rect x="681" y="397" width="3" height="6" fill="#000"/>
<rect x="689" y="397" width="1" height="6" fill="#000"/>
<rect x="688" y="398" width="2" height="4" fill="#000"/>
<rect x="688" y="398" width="3" height="4" fill="#000"/>
<rect x="681" y="406" width="3" height="7" fill="#000"/>
<rect x="689" y="406" width="1" height="7" fill="#000"/>
<rect x="688" y="407" width="2" height="5" fill="#000"/>
<rect x="688" y="408" width="3" height="4" fill="#000"/>
<rect x="681" y="415" width="3" height="8" fill="#000"/>
<rect x="689" y="415" width="1" height="8" fill="#000"/>
<rect x="688" y="416" width="2" height="6" fill="#000"/>
<rect x="688" y="417" width="3" height="4" fill="#000"/>
<rect x="681" y="425" width="3" height="7" fill="#000"/>
<rect x="689" y="425" width="1" height="7" fill="#000"/>
<rect x="688" y="426" width="2" height="5" fill="#000"/>
<rect x="688" y="427" width="3" height="4" fill="#000"/>
<rect x="681" y="434" width="3" height="7" fill="#000"/>
<rect x="689" y="434" width="1" height="7" fill="#000"/>
<rect x="688" y="435" width="2" height="5" fill="#000"/>
<rect x="688" y="436" width="3" height="4" fill="#000"/>
<rect x="681" y="444" width="3" height="6" fill="#000"/>
<rect x="689" y="444" width="1" height="6" fill="#000"/>
<rect x="688" y="445" width="2" height="4" fill="#000"/>
<rect x="688" y="445" width="3" height="4" fill="#000"/>
<rect x="681" y="453" width="3" height="7" fill="#000"/>
<rect x="689" y="453" width="1" height="7" fill="#000"/>
<rect x="688" y="454" width="2" height="5" fill="#000"/>
<rect x="688" y="455" width="3" height="4" fill="#000"/>
<rect x="681" y="462" width="3" height="7" fill="#000"/>
<rect x="689" y="462" width="1" height="7" fill="#000"/>
<rect x="688" y="463" width="2" height="5" fill="#000"/>
<rect x="688" y="464" width="3" height="4" fill="#000"/>
<rect x="681" y="471" width="3" height="7" fill="#000"/>
<rect x="689" y="471" width="1" height="7" fill="#000"/>
<rect x="688" y="472" width="2" height="5" fill="#000"/>
<rect x="688" y="473" width="3" height="4" fill="#000"/>
<rect x="687" y="369" width="1" height="110" fill="#000"/>
<!-- keyboard connector -->
<rect x="769" y="431" width="30" height="37" fill="#000"/>
<rect x="793" y="426" width="6" height="47" fill="#000"/>
<rect x="796" y="424" width="3" height="51" fill="#000"/>
<rect x="767" y="437" width="2" height="25" fill="#000"/>
<rect x="763" y="439" width="5" height="8" fill="#000"/>
<rect x="764" y="440" width="3" height="6" fill="#fff"/>
<rect x="763" y="451" width="5" height="9" fill="#000"/>
<rect x="764" y="452" width="3" height="7" fill="#fff"/>
<rect x="768" y="447" width="2" height="5" fill="#fff"/>
</svg>
</body></html>
